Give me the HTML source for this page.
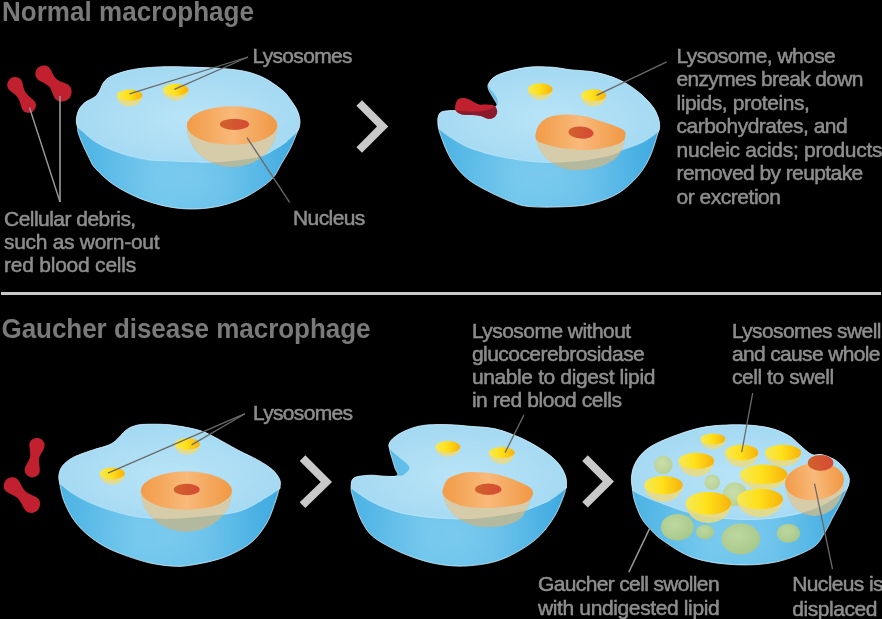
<!DOCTYPE html>
<html><head><meta charset="utf-8"><title>Macrophage</title>
<style>html,body{margin:0;padding:0;background:#000;width:882px;height:619px;overflow:hidden}svg{display:block;will-change:transform}text{font-family:"Liberation Sans",sans-serif}</style>
</head><body>
<svg width="882" height="619" viewBox="0 0 882 619" font-family="Liberation Sans, sans-serif"><defs><linearGradient id="bowl" x1="0" y1="0" x2="1" y2="0">
<stop offset="0" stop-color="#4db3e4"/><stop offset="0.35" stop-color="#6ac4ec"/><stop offset="0.65" stop-color="#62bfea"/><stop offset="1" stop-color="#3faae0"/></linearGradient>
<radialGradient id="bowlhi" cx="0.5" cy="0.78" r="0.45">
<stop offset="0" stop-color="#ffffff" stop-opacity="0.13"/><stop offset="1" stop-color="#ffffff" stop-opacity="0"/></radialGradient>
<radialGradient id="sphg" cx="0.42" cy="0.4" r="0.6">
<stop offset="0" stop-color="#bed8a0"/><stop offset="1" stop-color="#a9c98c"/></radialGradient>
<radialGradient id="sphg2" cx="0.42" cy="0.4" r="0.6">
<stop offset="0" stop-color="#cadea9"/><stop offset="1" stop-color="#b8d198"/></radialGradient>
<radialGradient id="topg" cx="0.5" cy="0.55" r="0.6">
<stop offset="0" stop-color="#b8e4f7"/><stop offset="1" stop-color="#a2d8f2"/></radialGradient>
<linearGradient id="nucg" x1="0" y1="0" x2="1" y2="0">
<stop offset="0" stop-color="#f29b47"/><stop offset="0.5" stop-color="#f8b97a"/><stop offset="1" stop-color="#f19843"/></linearGradient>
<linearGradient id="innerg" x1="0" y1="0" x2="1" y2="0">
<stop offset="0" stop-color="#d0622a"/><stop offset="1" stop-color="#d64a36"/></linearGradient>
<linearGradient id="lysg" x1="0" y1="0" x2="1" y2="0">
<stop offset="0" stop-color="#f3e85a"/><stop offset="0.45" stop-color="#ffe11a"/><stop offset="1" stop-color="#f7b20c"/></linearGradient>

<clipPath id="co1"><path d="M77.5,127.0 C77.2,125.0 76.1,122.5 76.3,119.7 C76.5,116.9 77.4,112.8 78.8,110.0 C80.2,107.2 82.0,104.9 84.7,102.7 C87.4,100.5 92.5,98.8 95.0,96.8 C97.5,94.8 98.0,93.5 99.5,91.0 C101.0,88.5 101.9,84.6 103.9,82.1 C105.9,79.6 107.1,78.2 111.3,76.2 C115.5,74.2 122.4,71.8 129.0,70.3 C135.6,68.8 142.7,68.0 151.0,67.4 C159.3,66.8 165.1,66.5 178.8,66.8 C192.5,67.1 219.4,67.9 233.0,69.5 C246.6,71.1 252.3,72.9 260.5,76.3 C268.7,79.7 277.0,86.0 282.0,90.0 C287.0,94.0 288.2,96.6 290.7,100.0 C293.2,103.4 295.7,107.1 297.2,110.3 C298.7,113.5 299.4,116.8 299.8,119.4 C300.2,122.0 299.9,124.0 299.5,126.0 C299.1,128.0 299.0,127.9 297.5,131.5 C296.0,135.1 293.3,142.5 290.7,147.8 C288.1,153.1 284.9,158.0 281.7,163.3 C278.5,168.6 276.9,174.2 271.4,179.5 C265.9,184.8 256.3,191.2 248.7,195.4 C241.1,199.6 233.6,202.2 226.0,204.4 C218.4,206.6 211.0,207.8 203.4,208.5 C195.8,209.2 188.3,209.2 180.7,208.5 C173.1,207.8 165.6,206.4 158.0,204.4 C150.4,202.4 143.0,199.9 135.4,196.5 C127.9,193.1 119.4,188.7 112.7,184.0 C106.0,179.3 99.1,172.4 95.2,168.2 C91.3,163.9 91.7,162.9 89.4,158.5 C87.1,154.1 83.5,146.4 81.6,142.0 C79.7,137.6 78.7,134.5 78.0,132.0 C77.3,129.5 77.8,129.1 77.5,127.0 Z"/></clipPath>
<clipPath id="ct1"><path d="M77.5,127.0 C76.1,124.7 76.1,122.5 76.3,119.7 C76.5,116.9 77.4,112.8 78.8,110.0 C80.2,107.2 82.0,104.9 84.7,102.7 C87.4,100.5 92.5,98.8 95.0,96.8 C97.5,94.8 98.0,93.5 99.5,91.0 C101.0,88.5 101.9,84.6 103.9,82.1 C105.9,79.6 107.1,78.2 111.3,76.2 C115.5,74.2 122.4,71.8 129.0,70.3 C135.6,68.8 142.7,68.0 151.0,67.4 C159.3,66.8 165.1,66.5 178.8,66.8 C192.5,67.1 219.4,67.9 233.0,69.5 C246.6,71.1 252.3,72.9 260.5,76.3 C268.7,79.7 277.0,86.0 282.0,90.0 C287.0,94.0 288.2,96.6 290.7,100.0 C293.2,103.4 295.7,107.1 297.2,110.3 C298.7,113.5 299.4,116.8 299.8,119.4 C300.2,122.0 299.9,124.0 299.5,126.0 C299.1,128.0 299.6,128.9 297.5,131.5 C295.4,134.1 290.7,138.5 287.0,141.4 C283.3,144.3 280.0,146.5 275.2,149.1 C270.4,151.7 267.6,154.8 258.4,156.9 C249.1,159.1 231.5,161.2 219.7,162.0 C207.8,162.8 195.9,161.9 187.3,161.7 C178.7,161.5 174.2,161.1 168.0,160.8 C161.8,160.5 156.6,160.9 150.0,160.0 C143.4,159.1 135.1,157.5 128.2,155.6 C121.3,153.7 114.5,151.2 108.8,148.8 C103.1,146.4 98.2,143.6 94.2,141.0 C90.2,138.4 87.3,135.6 84.5,133.3 C81.7,131.0 78.9,129.3 77.5,127.0 Z"/></clipPath>
<clipPath id="cn1"><path d="M186.9,125.5 A45.2,41.8 0 0 0 277.3,125.5 Z"/></clipPath>
<clipPath id="co2"><path d="M438.5,128.0 C438.1,126.2 438.1,126.6 438.0,124.9 C437.9,123.2 437.6,119.9 438.0,117.8 C438.4,115.7 439.1,113.6 440.7,112.4 C442.3,111.2 445.1,111.1 447.8,110.8 C450.5,110.5 452.9,110.5 456.6,110.6 C460.3,110.7 465.3,111.6 470.0,111.6 C474.7,111.6 480.6,111.4 485.0,110.5 C489.4,109.6 494.9,107.8 496.5,106.0 C498.1,104.2 495.6,102.1 494.6,100.0 C493.6,97.9 491.8,95.6 490.7,93.6 C489.6,91.6 488.4,89.5 488.1,87.8 C487.8,86.1 487.7,85.1 488.8,83.3 C489.9,81.5 491.5,78.8 494.6,76.8 C497.7,74.8 501.6,73.2 507.5,71.6 C513.4,70.0 522.5,67.8 530.0,67.1 C537.5,66.4 545.7,66.8 552.4,67.2 C559.1,67.6 563.0,68.9 570.0,69.7 C577.0,70.5 586.1,70.5 594.2,72.1 C602.3,73.7 611.1,76.2 618.4,79.4 C625.7,82.6 632.1,87.1 637.8,91.5 C643.4,95.9 648.9,101.6 652.3,106.0 C655.7,110.4 657.2,114.5 658.4,118.1 C659.6,121.7 659.7,125.3 659.6,127.8 C659.5,130.3 659.6,128.2 658.0,133.0 C656.4,137.8 653.3,149.7 649.9,156.9 C646.5,164.1 643.0,170.1 637.8,176.2 C632.5,182.2 625.7,188.8 618.4,193.2 C611.1,197.6 602.3,200.7 594.2,202.9 C586.1,205.1 580.7,205.9 570.0,206.5 C559.3,207.1 540.0,207.5 530.0,206.6 C520.0,205.7 517.1,203.9 509.9,201.2 C502.7,198.5 493.6,194.1 486.8,190.6 C480.0,187.1 474.0,183.8 469.0,180.0 C464.0,176.2 460.1,171.9 456.6,167.5 C453.1,163.1 450.5,158.6 447.8,153.3 C445.1,148.0 442.2,139.7 440.7,135.5 C439.1,131.3 438.9,129.8 438.5,128.0 Z"/></clipPath>
<clipPath id="ct2"><path d="M438.5,128.0 C438.3,127.4 438.1,126.6 438.0,124.9 C437.9,123.2 437.6,119.9 438.0,117.8 C438.4,115.7 439.1,113.6 440.7,112.4 C442.3,111.2 445.1,111.1 447.8,110.8 C450.5,110.5 452.9,110.5 456.6,110.6 C460.3,110.7 465.3,111.6 470.0,111.6 C474.7,111.6 480.6,111.4 485.0,110.5 C489.4,109.6 494.4,107.8 496.5,106.0 C498.6,104.2 497.9,102.1 497.5,100.0 C497.1,97.9 495.3,95.6 494.0,93.6 C492.7,91.6 490.4,89.7 489.5,88.0 C488.6,86.3 487.9,85.2 488.8,83.3 C489.7,81.4 491.5,78.8 494.6,76.8 C497.7,74.8 501.6,73.2 507.5,71.6 C513.4,70.0 522.5,67.8 530.0,67.1 C537.5,66.4 545.7,66.8 552.4,67.2 C559.1,67.6 563.0,68.9 570.0,69.7 C577.0,70.5 586.1,70.5 594.2,72.1 C602.3,73.7 611.1,76.2 618.4,79.4 C625.7,82.6 632.1,87.1 637.8,91.5 C643.4,95.9 648.9,101.6 652.3,106.0 C655.7,110.4 657.2,114.5 658.4,118.1 C659.6,121.7 659.7,125.3 659.6,127.8 C659.5,130.3 658.4,132.2 658.0,133.0 C657.6,133.8 659.8,131.0 657.2,132.6 C654.6,134.2 648.2,139.5 642.6,142.3 C637.0,145.1 628.3,147.5 623.3,149.6 C618.2,151.7 618.3,153.2 612.3,154.9 C606.3,156.6 596.8,158.7 587.4,159.9 C578.0,161.2 565.8,162.2 556.2,162.4 C546.6,162.6 539.2,162.2 530.0,161.3 C520.8,160.4 508.8,158.3 501.0,156.8 C493.2,155.3 489.2,154.2 483.3,152.4 C477.4,150.6 471.4,149.0 465.5,146.2 C459.6,143.4 452.2,138.4 447.8,135.5 C443.4,132.6 440.6,129.8 439.0,128.5 C437.4,127.2 438.7,128.6 438.5,128.0 Z"/></clipPath>
<clipPath id="cn2"><path d="M536,137 C537,150 548,166 570,170 C590,172 610,165 618,156 C623,150 624,144 625,136 Z"/></clipPath>
<clipPath id="co3"><path d="M59.8,484.0 C59.5,481.9 58.4,478.3 58.9,475.2 C59.4,472.1 60.2,468.6 62.8,465.5 C65.4,462.4 69.3,459.4 74.4,456.8 C79.5,454.2 88.1,451.6 93.6,449.7 C99.1,447.8 103.6,447.1 107.2,445.6 C110.8,444.1 112.2,443.5 115.4,440.9 C118.6,438.3 123.1,432.5 126.3,430.0 C129.5,427.5 131.2,426.8 134.4,425.9 C137.6,424.9 140.1,424.5 145.3,424.3 C150.5,424.1 159.6,424.1 165.7,424.5 C171.8,424.9 176.3,425.6 182.0,426.6 C187.7,427.6 194.6,428.9 200.0,430.6 C205.4,432.3 207.8,433.6 214.2,436.9 C220.6,440.2 231.1,446.4 238.4,450.3 C245.7,454.2 252.2,456.8 257.8,460.0 C263.4,463.2 268.7,466.4 272.3,469.6 C275.9,472.8 278.3,476.5 279.6,479.3 C280.9,482.1 280.2,484.9 280.1,486.6 C280.0,488.3 279.7,487.3 279.0,489.5 C278.3,491.7 277.9,494.5 276.0,499.9 C274.1,505.3 271.3,514.9 267.5,521.7 C263.7,528.6 258.6,535.8 253.0,541.0 C247.3,546.2 240.1,550.0 233.6,553.2 C227.1,556.4 221.5,558.4 214.2,560.4 C206.9,562.4 196.5,564.3 190.0,565.3 C183.5,566.3 181.3,566.6 175.0,566.3 C168.7,566.0 159.6,565.0 151.9,563.4 C144.2,561.8 136.4,559.4 128.7,556.6 C120.9,553.9 112.5,550.8 105.4,546.9 C98.3,543.0 91.5,538.2 86.0,533.4 C80.5,528.6 76.1,523.4 72.4,517.9 C68.7,512.4 65.7,505.4 63.7,500.4 C61.7,495.4 61.1,490.7 60.5,488.0 C59.9,485.3 60.1,486.1 59.8,484.0 Z"/></clipPath>
<clipPath id="ct3"><path d="M59.8,484.0 C59.4,482.4 58.4,478.3 58.9,475.2 C59.4,472.1 60.2,468.6 62.8,465.5 C65.4,462.4 69.3,459.4 74.4,456.8 C79.5,454.2 88.1,451.6 93.6,449.7 C99.1,447.8 103.6,447.1 107.2,445.6 C110.8,444.1 112.2,443.5 115.4,440.9 C118.6,438.3 123.1,432.5 126.3,430.0 C129.5,427.5 131.2,426.8 134.4,425.9 C137.6,424.9 140.1,424.5 145.3,424.3 C150.5,424.1 159.6,424.1 165.7,424.5 C171.8,424.9 176.3,425.6 182.0,426.6 C187.7,427.6 194.6,428.9 200.0,430.6 C205.4,432.3 207.8,433.6 214.2,436.9 C220.6,440.2 231.1,446.4 238.4,450.3 C245.7,454.2 252.2,456.8 257.8,460.0 C263.4,463.2 268.7,466.4 272.3,469.6 C275.9,472.8 278.3,476.5 279.6,479.3 C280.9,482.1 280.2,484.9 280.1,486.6 C280.0,488.3 281.9,487.3 279.0,489.5 C276.1,491.7 269.1,496.4 262.6,500.0 C256.1,503.6 248.3,508.5 240.0,511.1 C231.7,513.7 223.6,514.3 212.6,515.6 C201.6,516.9 184.6,518.4 173.8,518.8 C163.0,519.2 154.9,518.5 148.0,518.0 C141.1,517.5 138.3,517.1 132.5,516.0 C126.7,514.9 119.7,513.1 113.2,511.1 C106.8,509.2 100.3,507.1 93.8,504.3 C87.3,501.6 79.9,497.9 74.4,494.6 C68.9,491.3 63.4,486.3 61.0,484.5 C58.6,482.7 60.1,485.6 59.8,484.0 Z"/></clipPath>
<clipPath id="cn3"><path d="M140.8,490.7 A45.6,41.1 0 0 0 232.0,490.7 Z"/></clipPath>
<clipPath id="co4"><path d="M351.1,488.8 C351.2,486.8 351.0,481.8 352.3,479.7 C353.6,477.6 355.6,477.1 359.0,476.3 C362.4,475.6 368.5,475.2 372.6,475.2 C376.7,475.2 379.7,476.1 383.8,476.2 C387.9,476.3 395.5,477.0 397.3,475.6 C399.1,474.2 395.7,470.6 394.8,467.8 C393.9,465.0 393.1,461.8 392.2,458.8 C391.3,455.8 390.0,452.4 389.6,449.7 C389.2,447.0 388.4,445.0 389.6,442.6 C390.8,440.2 393.4,437.8 396.7,435.5 C400.0,433.2 404.9,430.7 409.6,429.0 C414.3,427.3 418.3,425.9 425.0,425.2 C431.7,424.5 442.3,424.5 449.8,424.7 C457.3,424.9 462.4,425.6 470.0,426.3 C477.6,427.0 486.8,426.9 495.1,428.8 C503.5,430.7 512.2,434.1 520.1,437.6 C528.0,441.2 536.4,445.9 542.7,450.1 C549.0,454.3 554.0,458.4 557.7,462.6 C561.5,466.8 563.7,471.4 565.2,475.2 C566.7,479.0 566.5,482.9 566.5,485.2 C566.5,487.5 565.9,487.3 565.5,489.0 C565.1,490.7 565.7,490.8 564.0,495.2 C562.3,499.6 559.2,508.5 555.2,515.2 C551.2,521.9 546.1,529.4 540.2,535.3 C534.4,541.1 527.6,545.9 520.1,550.3 C512.6,554.7 504.1,559.0 495.1,561.6 C486.1,564.2 475.1,565.5 466.0,566.0 C456.9,566.5 448.4,565.7 440.4,564.5 C432.4,563.3 425.3,561.4 417.8,558.9 C410.3,556.4 402.7,553.6 395.2,549.8 C387.7,546.0 378.2,541.2 372.6,536.3 C367.0,531.4 364.3,526.1 361.3,520.4 C358.3,514.7 356.1,507.0 354.5,502.3 C352.9,497.6 352.1,494.2 351.5,492.0 C350.9,489.8 351.0,490.9 351.1,488.8 Z"/></clipPath>
<clipPath id="ct4"><path d="M351.1,488.8 C350.9,487.1 351.0,481.8 352.3,479.7 C353.6,477.6 355.6,477.1 359.0,476.3 C362.4,475.6 368.5,475.2 372.6,475.2 C376.7,475.2 379.7,476.1 383.8,476.2 C387.9,476.3 394.1,476.0 397.3,475.8 C400.5,475.6 401.2,475.9 403.2,474.9 C405.1,473.9 408.1,471.4 409.0,469.8 C409.9,468.2 409.9,467.2 408.3,465.2 C406.7,463.1 402.4,460.3 399.3,457.5 C396.2,454.7 391.2,450.9 389.6,448.4 C388.0,445.9 388.4,444.8 389.6,442.6 C390.8,440.5 393.4,437.8 396.7,435.5 C400.0,433.2 404.9,430.7 409.6,429.0 C414.3,427.3 418.3,425.9 425.0,425.2 C431.7,424.5 442.3,424.5 449.8,424.7 C457.3,424.9 462.4,425.6 470.0,426.3 C477.6,427.0 486.8,426.9 495.1,428.8 C503.5,430.7 512.2,434.1 520.1,437.6 C528.0,441.2 536.4,445.9 542.7,450.1 C549.0,454.3 554.0,458.4 557.7,462.6 C561.5,466.8 563.7,471.4 565.2,475.2 C566.7,479.0 566.5,482.9 566.5,485.2 C566.5,487.5 568.2,486.5 565.5,489.0 C562.8,491.5 555.7,497.1 550.2,500.2 C544.7,503.3 537.7,505.7 532.7,507.7 C527.7,509.7 526.4,510.5 520.1,512.0 C513.8,513.5 503.4,515.3 495.0,516.5 C486.6,517.7 479.1,518.7 470.0,519.0 C460.9,519.3 449.1,518.7 440.4,518.2 C431.7,517.7 425.3,517.0 417.8,515.9 C410.3,514.8 402.7,513.7 395.2,511.4 C387.7,509.1 379.6,505.9 372.6,502.3 C365.6,498.7 357.0,492.1 353.4,489.9 C349.8,487.6 351.3,490.5 351.1,488.8 Z"/></clipPath>
<clipPath id="cn4"><path d="M443,492 C444,508 458,526 485,527 C505,528 520,522 524,514 C528,506 531,500 532,494 Z"/></clipPath>
<clipPath id="co5"><path d="M632.3,488.5 C631.8,484.4 631.1,481.2 631.5,477.2 C631.9,473.2 632.6,468.6 634.7,464.3 C636.9,460.0 639.5,455.4 644.4,451.3 C649.2,447.2 654.2,444.0 663.8,440.0 C673.4,436.0 689.2,430.0 701.9,427.5 C714.6,425.0 728.8,424.8 740.0,424.8 C751.2,424.9 760.9,426.0 769.0,427.8 C777.1,429.6 783.3,432.6 788.5,435.5 C793.7,438.4 796.1,442.0 800.0,445.2 C803.9,448.4 808.1,452.9 811.7,454.5 C815.3,456.1 817.9,453.8 821.4,454.5 C824.9,455.2 829.8,457.1 833.0,458.8 C836.2,460.5 838.7,462.7 840.8,464.6 C842.9,466.5 844.4,468.5 845.7,470.4 C847.0,472.3 848.0,474.3 848.6,476.2 C849.2,478.1 849.5,479.9 849.2,482.0 C848.9,484.1 848.5,485.3 847.0,489.0 C845.5,492.7 842.6,499.1 840.1,504.0 C837.6,508.9 834.8,513.7 832.2,518.6 C829.6,523.5 827.7,528.3 824.3,533.3 C820.9,538.2 819.8,543.5 811.7,548.3 C803.7,553.1 788.8,559.3 776.0,562.0 C763.2,564.7 748.5,565.4 734.8,564.7 C721.1,564.0 705.7,562.0 693.6,557.9 C681.5,553.8 669.6,545.0 662.2,540.0 C654.8,535.0 652.8,531.8 649.3,528.1 C645.8,524.4 643.6,522.0 641.2,517.6 C638.8,513.2 636.2,506.4 634.7,501.5 C633.2,496.6 632.8,492.6 632.3,488.5 Z"/></clipPath>
<clipPath id="ct5"><path d="M632.3,488.5 C632.0,486.3 631.1,481.2 631.5,477.2 C631.9,473.2 632.6,468.6 634.7,464.3 C636.9,460.0 639.5,455.4 644.4,451.3 C649.2,447.2 654.2,444.0 663.8,440.0 C673.4,436.0 689.2,430.0 701.9,427.5 C714.6,425.0 728.8,424.8 740.0,424.8 C751.2,424.9 760.9,426.0 769.0,427.8 C777.1,429.6 783.3,432.6 788.5,435.5 C793.7,438.4 796.1,442.0 800.0,445.2 C803.9,448.4 808.1,452.9 811.7,454.5 C815.3,456.1 817.9,453.8 821.4,454.5 C824.9,455.2 829.8,457.1 833.0,458.8 C836.2,460.5 838.7,462.7 840.8,464.6 C842.9,466.5 844.4,468.5 845.7,470.4 C847.0,472.3 848.0,474.3 848.6,476.2 C849.2,478.1 849.5,479.9 849.2,482.0 C848.9,484.1 848.9,486.7 847.0,489.0 C845.1,491.3 842.1,493.1 837.8,496.0 C833.4,498.9 826.9,503.4 820.9,506.2 C814.9,509.0 807.4,511.4 801.7,513.0 C796.1,514.6 792.3,515.1 787.0,516.0 C781.7,516.9 776.4,517.9 770.0,518.5 C763.6,519.1 756.1,519.5 748.6,519.5 C741.1,519.5 731.9,519.1 725.0,518.5 C718.1,517.9 714.1,517.2 707.4,516.0 C700.7,514.8 692.0,513.4 685.0,511.5 C678.0,509.6 672.2,507.2 665.4,504.7 C658.6,502.2 649.8,499.0 644.4,496.6 C639.0,494.2 635.0,491.9 633.0,490.5 C631.0,489.1 632.5,490.7 632.3,488.5 Z"/></clipPath>
<clipPath id="cn5"><path d="M785.5,484 A29,32 0 0 0 843.5,484 Z"/></clipPath></defs><text transform="translate(2.0,21.0) scale(1,1.060)" font-size="26" font-weight="bold" fill="#7a7a7a" textLength="252.0" lengthAdjust="spacing">Normal macrophage</text>
<path d="M10.8,78.2 C9.3,79.2 7.8,81.3 7.5,83.1 C7.1,84.9 6.8,86.5 8.5,88.9 C10.3,91.3 15.6,94.2 17.9,97.7 C20.3,101.1 21.0,107.1 22.5,109.6 C24.0,112.1 25.4,112.4 27.1,112.7 C28.8,113.1 31.1,112.7 32.6,111.7 C34.0,110.8 35.4,108.8 35.7,107.1 C36.1,105.4 36.4,104.0 34.7,101.6 C33.0,99.2 27.9,96.2 25.7,92.6 C23.4,89.1 23.0,83.1 21.5,80.5 C19.9,77.9 18.4,77.5 16.6,77.2 C14.8,76.8 12.3,77.3 10.8,78.2 Z" fill="#c1202f"/>
<path d="M37.8,67.8 C36.4,69.2 35.4,71.7 35.4,73.6 C35.4,75.5 35.5,77.3 37.8,79.4 C40.1,81.5 46.2,83.2 49.1,86.5 C52.0,89.7 53.1,96.3 55.2,98.8 C57.4,101.3 59.7,101.6 62.0,101.6 C64.3,101.6 67.2,100.4 68.8,98.8 C70.4,97.2 71.6,94.3 71.6,92.0 C71.6,89.7 71.3,87.4 68.8,85.2 C66.3,83.1 59.7,82.0 56.5,79.1 C53.2,76.2 51.5,70.1 49.4,67.8 C47.3,65.5 45.5,65.4 43.6,65.4 C41.7,65.4 39.2,66.4 37.8,67.8 Z" fill="#c1202f"/>
<line x1="29.5" y1="107.5" x2="60.0" y2="202.0" stroke="#9a9a9a" stroke-width="1.4"/>
<line x1="60.0" y1="96.0" x2="60.0" y2="202.0" stroke="#9a9a9a" stroke-width="1.6"/>
<text transform="translate(4.0,225.6) scale(1,1.000)" font-size="21" font-weight="normal" fill="#8a8a8a" textLength="132.2" lengthAdjust="spacing" stroke="#9c9c9c" stroke-width="0.45">Cellular debris,</text>
<text transform="translate(4.0,248.6) scale(1,1.000)" font-size="21" font-weight="normal" fill="#8a8a8a" textLength="155.5" lengthAdjust="spacing" stroke="#9c9c9c" stroke-width="0.45">such as worn-out</text>
<text transform="translate(4.0,271.6) scale(1,1.000)" font-size="21" font-weight="normal" fill="#8a8a8a" textLength="132.2" lengthAdjust="spacing" stroke="#9c9c9c" stroke-width="0.45">red blood cells</text>
<path d="M77.5,127.0 C77.2,125.0 76.1,122.5 76.3,119.7 C76.5,116.9 77.4,112.8 78.8,110.0 C80.2,107.2 82.0,104.9 84.7,102.7 C87.4,100.5 92.5,98.8 95.0,96.8 C97.5,94.8 98.0,93.5 99.5,91.0 C101.0,88.5 101.9,84.6 103.9,82.1 C105.9,79.6 107.1,78.2 111.3,76.2 C115.5,74.2 122.4,71.8 129.0,70.3 C135.6,68.8 142.7,68.0 151.0,67.4 C159.3,66.8 165.1,66.5 178.8,66.8 C192.5,67.1 219.4,67.9 233.0,69.5 C246.6,71.1 252.3,72.9 260.5,76.3 C268.7,79.7 277.0,86.0 282.0,90.0 C287.0,94.0 288.2,96.6 290.7,100.0 C293.2,103.4 295.7,107.1 297.2,110.3 C298.7,113.5 299.4,116.8 299.8,119.4 C300.2,122.0 299.9,124.0 299.5,126.0 C299.1,128.0 299.0,127.9 297.5,131.5 C296.0,135.1 293.3,142.5 290.7,147.8 C288.1,153.1 284.9,158.0 281.7,163.3 C278.5,168.6 276.9,174.2 271.4,179.5 C265.9,184.8 256.3,191.2 248.7,195.4 C241.1,199.6 233.6,202.2 226.0,204.4 C218.4,206.6 211.0,207.8 203.4,208.5 C195.8,209.2 188.3,209.2 180.7,208.5 C173.1,207.8 165.6,206.4 158.0,204.4 C150.4,202.4 143.0,199.9 135.4,196.5 C127.9,193.1 119.4,188.7 112.7,184.0 C106.0,179.3 99.1,172.4 95.2,168.2 C91.3,163.9 91.7,162.9 89.4,158.5 C87.1,154.1 83.5,146.4 81.6,142.0 C79.7,137.6 78.7,134.5 78.0,132.0 C77.3,129.5 77.8,129.1 77.5,127.0 Z" fill="url(#bowl)"/>
<path d="M77.5,127.0 C77.2,125.0 76.1,122.5 76.3,119.7 C76.5,116.9 77.4,112.8 78.8,110.0 C80.2,107.2 82.0,104.9 84.7,102.7 C87.4,100.5 92.5,98.8 95.0,96.8 C97.5,94.8 98.0,93.5 99.5,91.0 C101.0,88.5 101.9,84.6 103.9,82.1 C105.9,79.6 107.1,78.2 111.3,76.2 C115.5,74.2 122.4,71.8 129.0,70.3 C135.6,68.8 142.7,68.0 151.0,67.4 C159.3,66.8 165.1,66.5 178.8,66.8 C192.5,67.1 219.4,67.9 233.0,69.5 C246.6,71.1 252.3,72.9 260.5,76.3 C268.7,79.7 277.0,86.0 282.0,90.0 C287.0,94.0 288.2,96.6 290.7,100.0 C293.2,103.4 295.7,107.1 297.2,110.3 C298.7,113.5 299.4,116.8 299.8,119.4 C300.2,122.0 299.9,124.0 299.5,126.0 C299.1,128.0 299.0,127.9 297.5,131.5 C296.0,135.1 293.3,142.5 290.7,147.8 C288.1,153.1 284.9,158.0 281.7,163.3 C278.5,168.6 276.9,174.2 271.4,179.5 C265.9,184.8 256.3,191.2 248.7,195.4 C241.1,199.6 233.6,202.2 226.0,204.4 C218.4,206.6 211.0,207.8 203.4,208.5 C195.8,209.2 188.3,209.2 180.7,208.5 C173.1,207.8 165.6,206.4 158.0,204.4 C150.4,202.4 143.0,199.9 135.4,196.5 C127.9,193.1 119.4,188.7 112.7,184.0 C106.0,179.3 99.1,172.4 95.2,168.2 C91.3,163.9 91.7,162.9 89.4,158.5 C87.1,154.1 83.5,146.4 81.6,142.0 C79.7,137.6 78.7,134.5 78.0,132.0 C77.3,129.5 77.8,129.1 77.5,127.0 Z" fill="url(#bowlhi)"/>
<path d="M77.5,127.0 C76.1,124.7 76.1,122.5 76.3,119.7 C76.5,116.9 77.4,112.8 78.8,110.0 C80.2,107.2 82.0,104.9 84.7,102.7 C87.4,100.5 92.5,98.8 95.0,96.8 C97.5,94.8 98.0,93.5 99.5,91.0 C101.0,88.5 101.9,84.6 103.9,82.1 C105.9,79.6 107.1,78.2 111.3,76.2 C115.5,74.2 122.4,71.8 129.0,70.3 C135.6,68.8 142.7,68.0 151.0,67.4 C159.3,66.8 165.1,66.5 178.8,66.8 C192.5,67.1 219.4,67.9 233.0,69.5 C246.6,71.1 252.3,72.9 260.5,76.3 C268.7,79.7 277.0,86.0 282.0,90.0 C287.0,94.0 288.2,96.6 290.7,100.0 C293.2,103.4 295.7,107.1 297.2,110.3 C298.7,113.5 299.4,116.8 299.8,119.4 C300.2,122.0 299.9,124.0 299.5,126.0 C299.1,128.0 299.6,128.9 297.5,131.5 C295.4,134.1 290.7,138.5 287.0,141.4 C283.3,144.3 280.0,146.5 275.2,149.1 C270.4,151.7 267.6,154.8 258.4,156.9 C249.1,159.1 231.5,161.2 219.7,162.0 C207.8,162.8 195.9,161.9 187.3,161.7 C178.7,161.5 174.2,161.1 168.0,160.8 C161.8,160.5 156.6,160.9 150.0,160.0 C143.4,159.1 135.1,157.5 128.2,155.6 C121.3,153.7 114.5,151.2 108.8,148.8 C103.1,146.4 98.2,143.6 94.2,141.0 C90.2,138.4 87.3,135.6 84.5,133.3 C81.7,131.0 78.9,129.3 77.5,127.0 Z" fill="url(#topg)"/>
<path d="M77.5,127.0 C77.2,125.0 76.1,122.5 76.3,119.7 C76.5,116.9 77.4,112.8 78.8,110.0 C80.2,107.2 82.0,104.9 84.7,102.7 C87.4,100.5 92.5,98.8 95.0,96.8 C97.5,94.8 98.0,93.5 99.5,91.0 C101.0,88.5 101.9,84.6 103.9,82.1 C105.9,79.6 107.1,78.2 111.3,76.2 C115.5,74.2 122.4,71.8 129.0,70.3 C135.6,68.8 142.7,68.0 151.0,67.4 C159.3,66.8 165.1,66.5 178.8,66.8 C192.5,67.1 219.4,67.9 233.0,69.5 C246.6,71.1 252.3,72.9 260.5,76.3 C268.7,79.7 277.0,86.0 282.0,90.0 C287.0,94.0 288.2,96.6 290.7,100.0 C293.2,103.4 295.7,107.1 297.2,110.3 C298.7,113.5 299.4,116.8 299.8,119.4 C300.2,122.0 299.9,124.0 299.5,126.0 C299.1,128.0 299.0,127.9 297.5,131.5 C296.0,135.1 293.3,142.5 290.7,147.8 C288.1,153.1 284.9,158.0 281.7,163.3 C278.5,168.6 276.9,174.2 271.4,179.5 C265.9,184.8 256.3,191.2 248.7,195.4 C241.1,199.6 233.6,202.2 226.0,204.4 C218.4,206.6 211.0,207.8 203.4,208.5 C195.8,209.2 188.3,209.2 180.7,208.5 C173.1,207.8 165.6,206.4 158.0,204.4 C150.4,202.4 143.0,199.9 135.4,196.5 C127.9,193.1 119.4,188.7 112.7,184.0 C106.0,179.3 99.1,172.4 95.2,168.2 C91.3,163.9 91.7,162.9 89.4,158.5 C87.1,154.1 83.5,146.4 81.6,142.0 C79.7,137.6 78.7,134.5 78.0,132.0 C77.3,129.5 77.8,129.1 77.5,127.0 Z" fill="none" stroke="#d4f0fc" stroke-width="1" stroke-opacity="0.75"/>
<path d="M287.0,141.4 C285.0,142.7 280.0,146.5 275.2,149.1 C270.4,151.7 267.6,154.8 258.4,156.9 C249.1,159.1 231.5,161.2 219.7,162.0 C207.8,162.8 195.9,161.9 187.3,161.7 C178.7,161.5 174.2,161.1 168.0,160.8 C161.8,160.5 156.6,160.9 150.0,160.0 C143.4,159.1 135.1,157.5 128.2,155.6 C121.3,153.7 114.5,151.2 108.8,148.8 C103.1,146.4 98.2,143.6 94.2,141.0 C90.2,138.4 86.1,134.6 84.5,133.3" fill="none" stroke="#c6ebfa" stroke-width="1" stroke-opacity="0.6"/>
<path d="M116.9,95.2 A12.7,11.3 0 0 0 142.3,95.2 Z" fill="#ecdb7c" fill-opacity="0.85"/>
<ellipse cx="129.6" cy="95.2" rx="12.7" ry="5.6" fill="url(#lysg)"/>
<path d="M163.0,89.8 A12.7,10.6 0 0 0 188.4,89.8 Z" fill="#ecdb7c" fill-opacity="0.85"/>
<ellipse cx="175.7" cy="89.8" rx="12.7" ry="6.0" fill="url(#lysg)"/>
<g clip-path="url(#cn1)"><path d="M77.5,127.0 C77.2,125.0 76.1,122.5 76.3,119.7 C76.5,116.9 77.4,112.8 78.8,110.0 C80.2,107.2 82.0,104.9 84.7,102.7 C87.4,100.5 92.5,98.8 95.0,96.8 C97.5,94.8 98.0,93.5 99.5,91.0 C101.0,88.5 101.9,84.6 103.9,82.1 C105.9,79.6 107.1,78.2 111.3,76.2 C115.5,74.2 122.4,71.8 129.0,70.3 C135.6,68.8 142.7,68.0 151.0,67.4 C159.3,66.8 165.1,66.5 178.8,66.8 C192.5,67.1 219.4,67.9 233.0,69.5 C246.6,71.1 252.3,72.9 260.5,76.3 C268.7,79.7 277.0,86.0 282.0,90.0 C287.0,94.0 288.2,96.6 290.7,100.0 C293.2,103.4 295.7,107.1 297.2,110.3 C298.7,113.5 299.4,116.8 299.8,119.4 C300.2,122.0 299.9,124.0 299.5,126.0 C299.1,128.0 299.0,127.9 297.5,131.5 C296.0,135.1 293.3,142.5 290.7,147.8 C288.1,153.1 284.9,158.0 281.7,163.3 C278.5,168.6 276.9,174.2 271.4,179.5 C265.9,184.8 256.3,191.2 248.7,195.4 C241.1,199.6 233.6,202.2 226.0,204.4 C218.4,206.6 211.0,207.8 203.4,208.5 C195.8,209.2 188.3,209.2 180.7,208.5 C173.1,207.8 165.6,206.4 158.0,204.4 C150.4,202.4 143.0,199.9 135.4,196.5 C127.9,193.1 119.4,188.7 112.7,184.0 C106.0,179.3 99.1,172.4 95.2,168.2 C91.3,163.9 91.7,162.9 89.4,158.5 C87.1,154.1 83.5,146.4 81.6,142.0 C79.7,137.6 78.7,134.5 78.0,132.0 C77.3,129.5 77.8,129.1 77.5,127.0 Z" fill="#b2b99f"/><path d="M77.5,127.0 C76.1,124.7 76.1,122.5 76.3,119.7 C76.5,116.9 77.4,112.8 78.8,110.0 C80.2,107.2 82.0,104.9 84.7,102.7 C87.4,100.5 92.5,98.8 95.0,96.8 C97.5,94.8 98.0,93.5 99.5,91.0 C101.0,88.5 101.9,84.6 103.9,82.1 C105.9,79.6 107.1,78.2 111.3,76.2 C115.5,74.2 122.4,71.8 129.0,70.3 C135.6,68.8 142.7,68.0 151.0,67.4 C159.3,66.8 165.1,66.5 178.8,66.8 C192.5,67.1 219.4,67.9 233.0,69.5 C246.6,71.1 252.3,72.9 260.5,76.3 C268.7,79.7 277.0,86.0 282.0,90.0 C287.0,94.0 288.2,96.6 290.7,100.0 C293.2,103.4 295.7,107.1 297.2,110.3 C298.7,113.5 299.4,116.8 299.8,119.4 C300.2,122.0 299.9,124.0 299.5,126.0 C299.1,128.0 299.6,128.9 297.5,131.5 C295.4,134.1 290.7,138.5 287.0,141.4 C283.3,144.3 280.0,146.5 275.2,149.1 C270.4,151.7 267.6,154.8 258.4,156.9 C249.1,159.1 231.5,161.2 219.7,162.0 C207.8,162.8 195.9,161.9 187.3,161.7 C178.7,161.5 174.2,161.1 168.0,160.8 C161.8,160.5 156.6,160.9 150.0,160.0 C143.4,159.1 135.1,157.5 128.2,155.6 C121.3,153.7 114.5,151.2 108.8,148.8 C103.1,146.4 98.2,143.6 94.2,141.0 C90.2,138.4 87.3,135.6 84.5,133.3 C81.7,131.0 78.9,129.3 77.5,127.0 Z" fill="#d7cca9"/></g>
<ellipse cx="232.1" cy="125.5" rx="45.2" ry="19.3" fill="url(#nucg)"/>
<ellipse cx="234.5" cy="124.3" rx="14.6" ry="5.6" fill="url(#innerg)"/>
<line x1="248.0" y1="57.0" x2="129.5" y2="93.8" stroke="#6a6a6a" stroke-width="1.3"/>
<line x1="248.0" y1="57.0" x2="174.4" y2="89.3" stroke="#6a6a6a" stroke-width="1.3"/>
<text transform="translate(252.5,62.7) scale(1,1.000)" font-size="21" font-weight="normal" fill="#8a8a8a" textLength="100.0" lengthAdjust="spacing" stroke="#9c9c9c" stroke-width="0.45">Lysosomes</text>
<line x1="247.0" y1="137.6" x2="289.6" y2="202.4" stroke="#6a6a6a" stroke-width="1.3"/>
<text transform="translate(293.0,224.7) scale(1,1.000)" font-size="21" font-weight="normal" fill="#8a8a8a" textLength="72.3" lengthAdjust="spacing" stroke="#9c9c9c" stroke-width="0.45">Nucleus</text>
<path d="M362.0,100.2 L388.3,126.5 L362.0,152.8 L356.4,147.2 L377.0,126.5 L356.4,105.8 Z" fill="#c9c9c9"/>
<path d="M438.5,128.0 C438.1,126.2 438.1,126.6 438.0,124.9 C437.9,123.2 437.6,119.9 438.0,117.8 C438.4,115.7 439.1,113.6 440.7,112.4 C442.3,111.2 445.1,111.1 447.8,110.8 C450.5,110.5 452.9,110.5 456.6,110.6 C460.3,110.7 465.3,111.6 470.0,111.6 C474.7,111.6 480.6,111.4 485.0,110.5 C489.4,109.6 494.9,107.8 496.5,106.0 C498.1,104.2 495.6,102.1 494.6,100.0 C493.6,97.9 491.8,95.6 490.7,93.6 C489.6,91.6 488.4,89.5 488.1,87.8 C487.8,86.1 487.7,85.1 488.8,83.3 C489.9,81.5 491.5,78.8 494.6,76.8 C497.7,74.8 501.6,73.2 507.5,71.6 C513.4,70.0 522.5,67.8 530.0,67.1 C537.5,66.4 545.7,66.8 552.4,67.2 C559.1,67.6 563.0,68.9 570.0,69.7 C577.0,70.5 586.1,70.5 594.2,72.1 C602.3,73.7 611.1,76.2 618.4,79.4 C625.7,82.6 632.1,87.1 637.8,91.5 C643.4,95.9 648.9,101.6 652.3,106.0 C655.7,110.4 657.2,114.5 658.4,118.1 C659.6,121.7 659.7,125.3 659.6,127.8 C659.5,130.3 659.6,128.2 658.0,133.0 C656.4,137.8 653.3,149.7 649.9,156.9 C646.5,164.1 643.0,170.1 637.8,176.2 C632.5,182.2 625.7,188.8 618.4,193.2 C611.1,197.6 602.3,200.7 594.2,202.9 C586.1,205.1 580.7,205.9 570.0,206.5 C559.3,207.1 540.0,207.5 530.0,206.6 C520.0,205.7 517.1,203.9 509.9,201.2 C502.7,198.5 493.6,194.1 486.8,190.6 C480.0,187.1 474.0,183.8 469.0,180.0 C464.0,176.2 460.1,171.9 456.6,167.5 C453.1,163.1 450.5,158.6 447.8,153.3 C445.1,148.0 442.2,139.7 440.7,135.5 C439.1,131.3 438.9,129.8 438.5,128.0 Z" fill="url(#bowl)"/>
<path d="M438.5,128.0 C438.1,126.2 438.1,126.6 438.0,124.9 C437.9,123.2 437.6,119.9 438.0,117.8 C438.4,115.7 439.1,113.6 440.7,112.4 C442.3,111.2 445.1,111.1 447.8,110.8 C450.5,110.5 452.9,110.5 456.6,110.6 C460.3,110.7 465.3,111.6 470.0,111.6 C474.7,111.6 480.6,111.4 485.0,110.5 C489.4,109.6 494.9,107.8 496.5,106.0 C498.1,104.2 495.6,102.1 494.6,100.0 C493.6,97.9 491.8,95.6 490.7,93.6 C489.6,91.6 488.4,89.5 488.1,87.8 C487.8,86.1 487.7,85.1 488.8,83.3 C489.9,81.5 491.5,78.8 494.6,76.8 C497.7,74.8 501.6,73.2 507.5,71.6 C513.4,70.0 522.5,67.8 530.0,67.1 C537.5,66.4 545.7,66.8 552.4,67.2 C559.1,67.6 563.0,68.9 570.0,69.7 C577.0,70.5 586.1,70.5 594.2,72.1 C602.3,73.7 611.1,76.2 618.4,79.4 C625.7,82.6 632.1,87.1 637.8,91.5 C643.4,95.9 648.9,101.6 652.3,106.0 C655.7,110.4 657.2,114.5 658.4,118.1 C659.6,121.7 659.7,125.3 659.6,127.8 C659.5,130.3 659.6,128.2 658.0,133.0 C656.4,137.8 653.3,149.7 649.9,156.9 C646.5,164.1 643.0,170.1 637.8,176.2 C632.5,182.2 625.7,188.8 618.4,193.2 C611.1,197.6 602.3,200.7 594.2,202.9 C586.1,205.1 580.7,205.9 570.0,206.5 C559.3,207.1 540.0,207.5 530.0,206.6 C520.0,205.7 517.1,203.9 509.9,201.2 C502.7,198.5 493.6,194.1 486.8,190.6 C480.0,187.1 474.0,183.8 469.0,180.0 C464.0,176.2 460.1,171.9 456.6,167.5 C453.1,163.1 450.5,158.6 447.8,153.3 C445.1,148.0 442.2,139.7 440.7,135.5 C439.1,131.3 438.9,129.8 438.5,128.0 Z" fill="url(#bowlhi)"/>
<path d="M438.5,128.0 C438.3,127.4 438.1,126.6 438.0,124.9 C437.9,123.2 437.6,119.9 438.0,117.8 C438.4,115.7 439.1,113.6 440.7,112.4 C442.3,111.2 445.1,111.1 447.8,110.8 C450.5,110.5 452.9,110.5 456.6,110.6 C460.3,110.7 465.3,111.6 470.0,111.6 C474.7,111.6 480.6,111.4 485.0,110.5 C489.4,109.6 494.4,107.8 496.5,106.0 C498.6,104.2 497.9,102.1 497.5,100.0 C497.1,97.9 495.3,95.6 494.0,93.6 C492.7,91.6 490.4,89.7 489.5,88.0 C488.6,86.3 487.9,85.2 488.8,83.3 C489.7,81.4 491.5,78.8 494.6,76.8 C497.7,74.8 501.6,73.2 507.5,71.6 C513.4,70.0 522.5,67.8 530.0,67.1 C537.5,66.4 545.7,66.8 552.4,67.2 C559.1,67.6 563.0,68.9 570.0,69.7 C577.0,70.5 586.1,70.5 594.2,72.1 C602.3,73.7 611.1,76.2 618.4,79.4 C625.7,82.6 632.1,87.1 637.8,91.5 C643.4,95.9 648.9,101.6 652.3,106.0 C655.7,110.4 657.2,114.5 658.4,118.1 C659.6,121.7 659.7,125.3 659.6,127.8 C659.5,130.3 658.4,132.2 658.0,133.0 C657.6,133.8 659.8,131.0 657.2,132.6 C654.6,134.2 648.2,139.5 642.6,142.3 C637.0,145.1 628.3,147.5 623.3,149.6 C618.2,151.7 618.3,153.2 612.3,154.9 C606.3,156.6 596.8,158.7 587.4,159.9 C578.0,161.2 565.8,162.2 556.2,162.4 C546.6,162.6 539.2,162.2 530.0,161.3 C520.8,160.4 508.8,158.3 501.0,156.8 C493.2,155.3 489.2,154.2 483.3,152.4 C477.4,150.6 471.4,149.0 465.5,146.2 C459.6,143.4 452.2,138.4 447.8,135.5 C443.4,132.6 440.6,129.8 439.0,128.5 C437.4,127.2 438.7,128.6 438.5,128.0 Z" fill="url(#topg)"/>
<path d="M438.5,128.0 C438.1,126.2 438.1,126.6 438.0,124.9 C437.9,123.2 437.6,119.9 438.0,117.8 C438.4,115.7 439.1,113.6 440.7,112.4 C442.3,111.2 445.1,111.1 447.8,110.8 C450.5,110.5 452.9,110.5 456.6,110.6 C460.3,110.7 465.3,111.6 470.0,111.6 C474.7,111.6 480.6,111.4 485.0,110.5 C489.4,109.6 494.9,107.8 496.5,106.0 C498.1,104.2 495.6,102.1 494.6,100.0 C493.6,97.9 491.8,95.6 490.7,93.6 C489.6,91.6 488.4,89.5 488.1,87.8 C487.8,86.1 487.7,85.1 488.8,83.3 C489.9,81.5 491.5,78.8 494.6,76.8 C497.7,74.8 501.6,73.2 507.5,71.6 C513.4,70.0 522.5,67.8 530.0,67.1 C537.5,66.4 545.7,66.8 552.4,67.2 C559.1,67.6 563.0,68.9 570.0,69.7 C577.0,70.5 586.1,70.5 594.2,72.1 C602.3,73.7 611.1,76.2 618.4,79.4 C625.7,82.6 632.1,87.1 637.8,91.5 C643.4,95.9 648.9,101.6 652.3,106.0 C655.7,110.4 657.2,114.5 658.4,118.1 C659.6,121.7 659.7,125.3 659.6,127.8 C659.5,130.3 659.6,128.2 658.0,133.0 C656.4,137.8 653.3,149.7 649.9,156.9 C646.5,164.1 643.0,170.1 637.8,176.2 C632.5,182.2 625.7,188.8 618.4,193.2 C611.1,197.6 602.3,200.7 594.2,202.9 C586.1,205.1 580.7,205.9 570.0,206.5 C559.3,207.1 540.0,207.5 530.0,206.6 C520.0,205.7 517.1,203.9 509.9,201.2 C502.7,198.5 493.6,194.1 486.8,190.6 C480.0,187.1 474.0,183.8 469.0,180.0 C464.0,176.2 460.1,171.9 456.6,167.5 C453.1,163.1 450.5,158.6 447.8,153.3 C445.1,148.0 442.2,139.7 440.7,135.5 C439.1,131.3 438.9,129.8 438.5,128.0 Z" fill="none" stroke="#d4f0fc" stroke-width="1" stroke-opacity="0.75"/>
<path d="M657.2,132.6 C654.8,134.2 648.2,139.5 642.6,142.3 C637.0,145.1 628.3,147.5 623.3,149.6 C618.2,151.7 618.3,153.2 612.3,154.9 C606.3,156.6 596.8,158.7 587.4,159.9 C578.0,161.2 565.8,162.2 556.2,162.4 C546.6,162.6 539.2,162.2 530.0,161.3 C520.8,160.4 508.8,158.3 501.0,156.8 C493.2,155.3 489.2,154.2 483.3,152.4 C477.4,150.6 471.4,149.0 465.5,146.2 C459.6,143.4 452.2,138.4 447.8,135.5 C443.4,132.6 440.5,129.7 439.0,128.5" fill="none" stroke="#c6ebfa" stroke-width="1" stroke-opacity="0.6"/>
<path d="M455.2,105.9 C455.5,104.0 456.4,100.8 458.0,99.5 C459.6,98.2 462.6,97.8 464.9,98.1 C467.2,98.3 469.6,99.9 472.0,101.0 C474.4,102.1 476.6,103.9 479.1,104.5 C481.6,105.1 484.5,104.4 487.0,104.6 C489.5,104.8 492.3,104.3 494.0,105.5 C495.7,106.7 497.2,109.7 497.2,111.7 C497.2,113.7 495.5,116.3 494.0,117.5 C492.5,118.7 490.2,119.0 488.0,118.8 C485.8,118.5 483.7,116.6 481.0,116.0 C478.3,115.4 475.2,115.2 472.0,115.0 C468.8,114.8 464.7,115.2 462.0,114.5 C459.3,113.8 457.1,112.4 456.0,111.0 C454.9,109.6 454.9,107.8 455.2,105.9 Z" fill="#c1202f"/>
<g clip-path="url(#ct2)"><path d="M455.2,105.9 C455.5,104.0 456.4,100.8 458.0,99.5 C459.6,98.2 462.6,97.8 464.9,98.1 C467.2,98.3 469.6,99.9 472.0,101.0 C474.4,102.1 476.6,103.9 479.1,104.5 C481.6,105.1 484.5,104.4 487.0,104.6 C489.5,104.8 492.3,104.3 494.0,105.5 C495.7,106.7 497.2,109.7 497.2,111.7 C497.2,113.7 495.5,116.3 494.0,117.5 C492.5,118.7 490.2,119.0 488.0,118.8 C485.8,118.5 483.7,116.6 481.0,116.0 C478.3,115.4 475.2,115.2 472.0,115.0 C468.8,114.8 464.7,115.2 462.0,114.5 C459.3,113.8 457.1,112.4 456.0,111.0 C454.9,109.6 454.9,107.8 455.2,105.9 Z" fill="#8b1b2c"/></g>
<path d="M527.9,89.2 A12.3,10.8 0 0 0 552.5,89.2 Z" fill="#ecdb7c" fill-opacity="0.85"/>
<ellipse cx="540.2" cy="89.2" rx="12.3" ry="6.0" fill="url(#lysg)"/>
<path d="M580.9,95.3 A12.6,11.4 0 0 0 606.1,95.3 Z" fill="#ecdb7c" fill-opacity="0.85"/>
<ellipse cx="593.5" cy="95.3" rx="12.6" ry="6.0" fill="url(#lysg)"/>
<g clip-path="url(#cn2)"><path d="M438.5,128.0 C438.1,126.2 438.1,126.6 438.0,124.9 C437.9,123.2 437.6,119.9 438.0,117.8 C438.4,115.7 439.1,113.6 440.7,112.4 C442.3,111.2 445.1,111.1 447.8,110.8 C450.5,110.5 452.9,110.5 456.6,110.6 C460.3,110.7 465.3,111.6 470.0,111.6 C474.7,111.6 480.6,111.4 485.0,110.5 C489.4,109.6 494.9,107.8 496.5,106.0 C498.1,104.2 495.6,102.1 494.6,100.0 C493.6,97.9 491.8,95.6 490.7,93.6 C489.6,91.6 488.4,89.5 488.1,87.8 C487.8,86.1 487.7,85.1 488.8,83.3 C489.9,81.5 491.5,78.8 494.6,76.8 C497.7,74.8 501.6,73.2 507.5,71.6 C513.4,70.0 522.5,67.8 530.0,67.1 C537.5,66.4 545.7,66.8 552.4,67.2 C559.1,67.6 563.0,68.9 570.0,69.7 C577.0,70.5 586.1,70.5 594.2,72.1 C602.3,73.7 611.1,76.2 618.4,79.4 C625.7,82.6 632.1,87.1 637.8,91.5 C643.4,95.9 648.9,101.6 652.3,106.0 C655.7,110.4 657.2,114.5 658.4,118.1 C659.6,121.7 659.7,125.3 659.6,127.8 C659.5,130.3 659.6,128.2 658.0,133.0 C656.4,137.8 653.3,149.7 649.9,156.9 C646.5,164.1 643.0,170.1 637.8,176.2 C632.5,182.2 625.7,188.8 618.4,193.2 C611.1,197.6 602.3,200.7 594.2,202.9 C586.1,205.1 580.7,205.9 570.0,206.5 C559.3,207.1 540.0,207.5 530.0,206.6 C520.0,205.7 517.1,203.9 509.9,201.2 C502.7,198.5 493.6,194.1 486.8,190.6 C480.0,187.1 474.0,183.8 469.0,180.0 C464.0,176.2 460.1,171.9 456.6,167.5 C453.1,163.1 450.5,158.6 447.8,153.3 C445.1,148.0 442.2,139.7 440.7,135.5 C439.1,131.3 438.9,129.8 438.5,128.0 Z" fill="#b2b99f"/><path d="M438.5,128.0 C438.3,127.4 438.1,126.6 438.0,124.9 C437.9,123.2 437.6,119.9 438.0,117.8 C438.4,115.7 439.1,113.6 440.7,112.4 C442.3,111.2 445.1,111.1 447.8,110.8 C450.5,110.5 452.9,110.5 456.6,110.6 C460.3,110.7 465.3,111.6 470.0,111.6 C474.7,111.6 480.6,111.4 485.0,110.5 C489.4,109.6 494.4,107.8 496.5,106.0 C498.6,104.2 497.9,102.1 497.5,100.0 C497.1,97.9 495.3,95.6 494.0,93.6 C492.7,91.6 490.4,89.7 489.5,88.0 C488.6,86.3 487.9,85.2 488.8,83.3 C489.7,81.4 491.5,78.8 494.6,76.8 C497.7,74.8 501.6,73.2 507.5,71.6 C513.4,70.0 522.5,67.8 530.0,67.1 C537.5,66.4 545.7,66.8 552.4,67.2 C559.1,67.6 563.0,68.9 570.0,69.7 C577.0,70.5 586.1,70.5 594.2,72.1 C602.3,73.7 611.1,76.2 618.4,79.4 C625.7,82.6 632.1,87.1 637.8,91.5 C643.4,95.9 648.9,101.6 652.3,106.0 C655.7,110.4 657.2,114.5 658.4,118.1 C659.6,121.7 659.7,125.3 659.6,127.8 C659.5,130.3 658.4,132.2 658.0,133.0 C657.6,133.8 659.8,131.0 657.2,132.6 C654.6,134.2 648.2,139.5 642.6,142.3 C637.0,145.1 628.3,147.5 623.3,149.6 C618.2,151.7 618.3,153.2 612.3,154.9 C606.3,156.6 596.8,158.7 587.4,159.9 C578.0,161.2 565.8,162.2 556.2,162.4 C546.6,162.6 539.2,162.2 530.0,161.3 C520.8,160.4 508.8,158.3 501.0,156.8 C493.2,155.3 489.2,154.2 483.3,152.4 C477.4,150.6 471.4,149.0 465.5,146.2 C459.6,143.4 452.2,138.4 447.8,135.5 C443.4,132.6 440.6,129.8 439.0,128.5 C437.4,127.2 438.7,128.6 438.5,128.0 Z" fill="#d7cca9"/></g>
<path d="M535.6,133.7 C536.1,131.0 537.6,126.5 540.0,123.7 C542.4,120.9 545.6,118.3 550.0,116.8 C554.4,115.2 560.4,114.5 566.2,114.4 C572.0,114.3 579.7,115.3 584.9,116.2 C590.1,117.1 592.7,118.5 597.3,120.0 C601.9,121.5 607.9,123.3 612.3,125.0 C616.7,126.7 621.3,128.1 623.5,130.0 C625.7,131.9 625.8,134.1 625.4,136.2 C625.0,138.3 624.2,140.5 621.0,142.4 C617.8,144.3 612.1,146.2 606.1,147.4 C600.1,148.7 592.2,149.8 584.9,149.9 C577.6,150.0 569.3,149.0 562.4,148.0 C555.5,147.0 548.0,145.0 543.7,143.7 C539.4,142.3 538.1,141.6 536.8,139.9 C535.4,138.2 535.1,136.4 535.6,133.7 Z" fill="url(#nucg)"/>
<ellipse cx="581" cy="132.6" rx="12.6" ry="6" fill="url(#innerg)" transform="rotate(4 581 132.6)"/>
<line x1="666.7" y1="61.8" x2="596.5" y2="95.3" stroke="#6a6a6a" stroke-width="1.3"/>
<text transform="translate(676.5,62.6) scale(1,1.000)" font-size="21" font-weight="normal" fill="#8a8a8a" textLength="159.3" lengthAdjust="spacing" stroke="#9c9c9c" stroke-width="0.45">Lysosome, whose</text>
<text transform="translate(676.5,86.1) scale(1,1.000)" font-size="21" font-weight="normal" fill="#8a8a8a" textLength="186.9" lengthAdjust="spacing" stroke="#9c9c9c" stroke-width="0.45">enzymes break down</text>
<text transform="translate(676.5,109.6) scale(1,1.000)" font-size="21" font-weight="normal" fill="#8a8a8a" textLength="133.4" lengthAdjust="spacing" stroke="#9c9c9c" stroke-width="0.45">lipids, proteins,</text>
<text transform="translate(676.5,133.1) scale(1,1.000)" font-size="21" font-weight="normal" fill="#8a8a8a" textLength="171.2" lengthAdjust="spacing" stroke="#9c9c9c" stroke-width="0.45">carbohydrates, and</text>
<text transform="translate(676.5,156.6) scale(1,1.000)" font-size="21" font-weight="normal" fill="#8a8a8a" textLength="206.0" lengthAdjust="spacing" stroke="#9c9c9c" stroke-width="0.45">nucleic acids; products</text>
<text transform="translate(676.5,180.1) scale(1,1.000)" font-size="21" font-weight="normal" fill="#8a8a8a" textLength="186.8" lengthAdjust="spacing" stroke="#9c9c9c" stroke-width="0.45">removed by reuptake</text>
<text transform="translate(676.5,203.6) scale(1,1.000)" font-size="21" font-weight="normal" fill="#8a8a8a" textLength="104.5" lengthAdjust="spacing" stroke="#9c9c9c" stroke-width="0.45">or excretion</text>
<rect x="1" y="292" width="880" height="3" fill="#c8c8c8"/>
<text transform="translate(1.5,337.7) scale(1,1.060)" font-size="26" font-weight="bold" fill="#7a7a7a" textLength="369.0" lengthAdjust="spacing">Gaucher disease macrophage</text>
<path d="M38.3,438.0 C36.6,437.7 34.1,438.2 32.6,439.2 C31.1,440.2 29.9,441.2 29.4,444.1 C29.0,447.0 30.8,452.7 30.1,456.8 C29.3,460.8 25.5,465.5 24.8,468.4 C24.2,471.3 25.0,472.6 26.0,474.1 C27.0,475.6 29.1,476.9 30.9,477.3 C32.6,477.6 35.1,477.1 36.6,476.1 C38.1,475.1 39.3,474.1 39.8,471.2 C40.2,468.3 38.4,462.6 39.1,458.5 C39.9,454.5 43.7,449.8 44.4,446.9 C45.0,444.0 44.2,442.7 43.2,441.2 C42.2,439.7 40.1,438.4 38.3,438.0 Z" fill="#c1202f"/>
<path d="M6.0,479.9 C4.7,481.3 3.7,483.8 3.7,485.8 C3.7,487.7 3.8,489.4 6.3,491.6 C8.7,493.7 14.9,495.6 18.2,498.7 C21.4,501.9 23.3,508.1 25.5,510.5 C27.8,512.9 29.7,512.9 31.7,512.9 C33.7,512.9 36.3,511.7 37.7,510.3 C39.1,508.8 40.1,506.1 40.1,504.1 C40.1,502.1 39.9,500.2 37.5,498.1 C35.0,495.9 28.6,494.3 25.3,491.2 C22.1,488.1 20.0,481.9 17.7,479.6 C15.5,477.3 13.8,477.3 11.8,477.3 C9.9,477.3 7.4,478.4 6.0,479.9 Z" fill="#c1202f"/>
<path d="M59.8,484.0 C59.5,481.9 58.4,478.3 58.9,475.2 C59.4,472.1 60.2,468.6 62.8,465.5 C65.4,462.4 69.3,459.4 74.4,456.8 C79.5,454.2 88.1,451.6 93.6,449.7 C99.1,447.8 103.6,447.1 107.2,445.6 C110.8,444.1 112.2,443.5 115.4,440.9 C118.6,438.3 123.1,432.5 126.3,430.0 C129.5,427.5 131.2,426.8 134.4,425.9 C137.6,424.9 140.1,424.5 145.3,424.3 C150.5,424.1 159.6,424.1 165.7,424.5 C171.8,424.9 176.3,425.6 182.0,426.6 C187.7,427.6 194.6,428.9 200.0,430.6 C205.4,432.3 207.8,433.6 214.2,436.9 C220.6,440.2 231.1,446.4 238.4,450.3 C245.7,454.2 252.2,456.8 257.8,460.0 C263.4,463.2 268.7,466.4 272.3,469.6 C275.9,472.8 278.3,476.5 279.6,479.3 C280.9,482.1 280.2,484.9 280.1,486.6 C280.0,488.3 279.7,487.3 279.0,489.5 C278.3,491.7 277.9,494.5 276.0,499.9 C274.1,505.3 271.3,514.9 267.5,521.7 C263.7,528.6 258.6,535.8 253.0,541.0 C247.3,546.2 240.1,550.0 233.6,553.2 C227.1,556.4 221.5,558.4 214.2,560.4 C206.9,562.4 196.5,564.3 190.0,565.3 C183.5,566.3 181.3,566.6 175.0,566.3 C168.7,566.0 159.6,565.0 151.9,563.4 C144.2,561.8 136.4,559.4 128.7,556.6 C120.9,553.9 112.5,550.8 105.4,546.9 C98.3,543.0 91.5,538.2 86.0,533.4 C80.5,528.6 76.1,523.4 72.4,517.9 C68.7,512.4 65.7,505.4 63.7,500.4 C61.7,495.4 61.1,490.7 60.5,488.0 C59.9,485.3 60.1,486.1 59.8,484.0 Z" fill="url(#bowl)"/>
<path d="M59.8,484.0 C59.5,481.9 58.4,478.3 58.9,475.2 C59.4,472.1 60.2,468.6 62.8,465.5 C65.4,462.4 69.3,459.4 74.4,456.8 C79.5,454.2 88.1,451.6 93.6,449.7 C99.1,447.8 103.6,447.1 107.2,445.6 C110.8,444.1 112.2,443.5 115.4,440.9 C118.6,438.3 123.1,432.5 126.3,430.0 C129.5,427.5 131.2,426.8 134.4,425.9 C137.6,424.9 140.1,424.5 145.3,424.3 C150.5,424.1 159.6,424.1 165.7,424.5 C171.8,424.9 176.3,425.6 182.0,426.6 C187.7,427.6 194.6,428.9 200.0,430.6 C205.4,432.3 207.8,433.6 214.2,436.9 C220.6,440.2 231.1,446.4 238.4,450.3 C245.7,454.2 252.2,456.8 257.8,460.0 C263.4,463.2 268.7,466.4 272.3,469.6 C275.9,472.8 278.3,476.5 279.6,479.3 C280.9,482.1 280.2,484.9 280.1,486.6 C280.0,488.3 279.7,487.3 279.0,489.5 C278.3,491.7 277.9,494.5 276.0,499.9 C274.1,505.3 271.3,514.9 267.5,521.7 C263.7,528.6 258.6,535.8 253.0,541.0 C247.3,546.2 240.1,550.0 233.6,553.2 C227.1,556.4 221.5,558.4 214.2,560.4 C206.9,562.4 196.5,564.3 190.0,565.3 C183.5,566.3 181.3,566.6 175.0,566.3 C168.7,566.0 159.6,565.0 151.9,563.4 C144.2,561.8 136.4,559.4 128.7,556.6 C120.9,553.9 112.5,550.8 105.4,546.9 C98.3,543.0 91.5,538.2 86.0,533.4 C80.5,528.6 76.1,523.4 72.4,517.9 C68.7,512.4 65.7,505.4 63.7,500.4 C61.7,495.4 61.1,490.7 60.5,488.0 C59.9,485.3 60.1,486.1 59.8,484.0 Z" fill="url(#bowlhi)"/>
<path d="M59.8,484.0 C59.4,482.4 58.4,478.3 58.9,475.2 C59.4,472.1 60.2,468.6 62.8,465.5 C65.4,462.4 69.3,459.4 74.4,456.8 C79.5,454.2 88.1,451.6 93.6,449.7 C99.1,447.8 103.6,447.1 107.2,445.6 C110.8,444.1 112.2,443.5 115.4,440.9 C118.6,438.3 123.1,432.5 126.3,430.0 C129.5,427.5 131.2,426.8 134.4,425.9 C137.6,424.9 140.1,424.5 145.3,424.3 C150.5,424.1 159.6,424.1 165.7,424.5 C171.8,424.9 176.3,425.6 182.0,426.6 C187.7,427.6 194.6,428.9 200.0,430.6 C205.4,432.3 207.8,433.6 214.2,436.9 C220.6,440.2 231.1,446.4 238.4,450.3 C245.7,454.2 252.2,456.8 257.8,460.0 C263.4,463.2 268.7,466.4 272.3,469.6 C275.9,472.8 278.3,476.5 279.6,479.3 C280.9,482.1 280.2,484.9 280.1,486.6 C280.0,488.3 281.9,487.3 279.0,489.5 C276.1,491.7 269.1,496.4 262.6,500.0 C256.1,503.6 248.3,508.5 240.0,511.1 C231.7,513.7 223.6,514.3 212.6,515.6 C201.6,516.9 184.6,518.4 173.8,518.8 C163.0,519.2 154.9,518.5 148.0,518.0 C141.1,517.5 138.3,517.1 132.5,516.0 C126.7,514.9 119.7,513.1 113.2,511.1 C106.8,509.2 100.3,507.1 93.8,504.3 C87.3,501.6 79.9,497.9 74.4,494.6 C68.9,491.3 63.4,486.3 61.0,484.5 C58.6,482.7 60.1,485.6 59.8,484.0 Z" fill="url(#topg)"/>
<path d="M59.8,484.0 C59.5,481.9 58.4,478.3 58.9,475.2 C59.4,472.1 60.2,468.6 62.8,465.5 C65.4,462.4 69.3,459.4 74.4,456.8 C79.5,454.2 88.1,451.6 93.6,449.7 C99.1,447.8 103.6,447.1 107.2,445.6 C110.8,444.1 112.2,443.5 115.4,440.9 C118.6,438.3 123.1,432.5 126.3,430.0 C129.5,427.5 131.2,426.8 134.4,425.9 C137.6,424.9 140.1,424.5 145.3,424.3 C150.5,424.1 159.6,424.1 165.7,424.5 C171.8,424.9 176.3,425.6 182.0,426.6 C187.7,427.6 194.6,428.9 200.0,430.6 C205.4,432.3 207.8,433.6 214.2,436.9 C220.6,440.2 231.1,446.4 238.4,450.3 C245.7,454.2 252.2,456.8 257.8,460.0 C263.4,463.2 268.7,466.4 272.3,469.6 C275.9,472.8 278.3,476.5 279.6,479.3 C280.9,482.1 280.2,484.9 280.1,486.6 C280.0,488.3 279.7,487.3 279.0,489.5 C278.3,491.7 277.9,494.5 276.0,499.9 C274.1,505.3 271.3,514.9 267.5,521.7 C263.7,528.6 258.6,535.8 253.0,541.0 C247.3,546.2 240.1,550.0 233.6,553.2 C227.1,556.4 221.5,558.4 214.2,560.4 C206.9,562.4 196.5,564.3 190.0,565.3 C183.5,566.3 181.3,566.6 175.0,566.3 C168.7,566.0 159.6,565.0 151.9,563.4 C144.2,561.8 136.4,559.4 128.7,556.6 C120.9,553.9 112.5,550.8 105.4,546.9 C98.3,543.0 91.5,538.2 86.0,533.4 C80.5,528.6 76.1,523.4 72.4,517.9 C68.7,512.4 65.7,505.4 63.7,500.4 C61.7,495.4 61.1,490.7 60.5,488.0 C59.9,485.3 60.1,486.1 59.8,484.0 Z" fill="none" stroke="#d4f0fc" stroke-width="1" stroke-opacity="0.75"/>
<path d="M262.6,500.0 C258.8,501.9 248.3,508.5 240.0,511.1 C231.7,513.7 223.6,514.3 212.6,515.6 C201.6,516.9 184.6,518.4 173.8,518.8 C163.0,519.2 154.9,518.5 148.0,518.0 C141.1,517.5 138.3,517.1 132.5,516.0 C126.7,514.9 119.7,513.1 113.2,511.1 C106.8,509.2 100.3,507.1 93.8,504.3 C87.3,501.6 79.9,497.9 74.4,494.6 C68.9,491.3 63.2,486.2 61.0,484.5" fill="none" stroke="#c6ebfa" stroke-width="1" stroke-opacity="0.6"/>
<path d="M99.6,473.3 A12.6,11.2 0 0 0 124.8,473.3 Z" fill="#ecdb7c" fill-opacity="0.85"/>
<ellipse cx="112.2" cy="473.3" rx="12.6" ry="5.9" fill="url(#lysg)"/>
<path d="M174.6,443.9 A12.6,10.8 0 0 0 199.8,443.9 Z" fill="#ecdb7c" fill-opacity="0.85"/>
<ellipse cx="187.2" cy="443.9" rx="12.6" ry="5.8" fill="url(#lysg)"/>
<g clip-path="url(#cn3)"><path d="M59.8,484.0 C59.5,481.9 58.4,478.3 58.9,475.2 C59.4,472.1 60.2,468.6 62.8,465.5 C65.4,462.4 69.3,459.4 74.4,456.8 C79.5,454.2 88.1,451.6 93.6,449.7 C99.1,447.8 103.6,447.1 107.2,445.6 C110.8,444.1 112.2,443.5 115.4,440.9 C118.6,438.3 123.1,432.5 126.3,430.0 C129.5,427.5 131.2,426.8 134.4,425.9 C137.6,424.9 140.1,424.5 145.3,424.3 C150.5,424.1 159.6,424.1 165.7,424.5 C171.8,424.9 176.3,425.6 182.0,426.6 C187.7,427.6 194.6,428.9 200.0,430.6 C205.4,432.3 207.8,433.6 214.2,436.9 C220.6,440.2 231.1,446.4 238.4,450.3 C245.7,454.2 252.2,456.8 257.8,460.0 C263.4,463.2 268.7,466.4 272.3,469.6 C275.9,472.8 278.3,476.5 279.6,479.3 C280.9,482.1 280.2,484.9 280.1,486.6 C280.0,488.3 279.7,487.3 279.0,489.5 C278.3,491.7 277.9,494.5 276.0,499.9 C274.1,505.3 271.3,514.9 267.5,521.7 C263.7,528.6 258.6,535.8 253.0,541.0 C247.3,546.2 240.1,550.0 233.6,553.2 C227.1,556.4 221.5,558.4 214.2,560.4 C206.9,562.4 196.5,564.3 190.0,565.3 C183.5,566.3 181.3,566.6 175.0,566.3 C168.7,566.0 159.6,565.0 151.9,563.4 C144.2,561.8 136.4,559.4 128.7,556.6 C120.9,553.9 112.5,550.8 105.4,546.9 C98.3,543.0 91.5,538.2 86.0,533.4 C80.5,528.6 76.1,523.4 72.4,517.9 C68.7,512.4 65.7,505.4 63.7,500.4 C61.7,495.4 61.1,490.7 60.5,488.0 C59.9,485.3 60.1,486.1 59.8,484.0 Z" fill="#b2b99f"/><path d="M59.8,484.0 C59.4,482.4 58.4,478.3 58.9,475.2 C59.4,472.1 60.2,468.6 62.8,465.5 C65.4,462.4 69.3,459.4 74.4,456.8 C79.5,454.2 88.1,451.6 93.6,449.7 C99.1,447.8 103.6,447.1 107.2,445.6 C110.8,444.1 112.2,443.5 115.4,440.9 C118.6,438.3 123.1,432.5 126.3,430.0 C129.5,427.5 131.2,426.8 134.4,425.9 C137.6,424.9 140.1,424.5 145.3,424.3 C150.5,424.1 159.6,424.1 165.7,424.5 C171.8,424.9 176.3,425.6 182.0,426.6 C187.7,427.6 194.6,428.9 200.0,430.6 C205.4,432.3 207.8,433.6 214.2,436.9 C220.6,440.2 231.1,446.4 238.4,450.3 C245.7,454.2 252.2,456.8 257.8,460.0 C263.4,463.2 268.7,466.4 272.3,469.6 C275.9,472.8 278.3,476.5 279.6,479.3 C280.9,482.1 280.2,484.9 280.1,486.6 C280.0,488.3 281.9,487.3 279.0,489.5 C276.1,491.7 269.1,496.4 262.6,500.0 C256.1,503.6 248.3,508.5 240.0,511.1 C231.7,513.7 223.6,514.3 212.6,515.6 C201.6,516.9 184.6,518.4 173.8,518.8 C163.0,519.2 154.9,518.5 148.0,518.0 C141.1,517.5 138.3,517.1 132.5,516.0 C126.7,514.9 119.7,513.1 113.2,511.1 C106.8,509.2 100.3,507.1 93.8,504.3 C87.3,501.6 79.9,497.9 74.4,494.6 C68.9,491.3 63.4,486.3 61.0,484.5 C58.6,482.7 60.1,485.6 59.8,484.0 Z" fill="#d7cca9"/></g>
<ellipse cx="186.4" cy="490.7" rx="45.6" ry="19.1" fill="url(#nucg)"/>
<ellipse cx="186.7" cy="489.5" rx="13.0" ry="5.8" fill="url(#innerg)"/>
<line x1="245.0" y1="413.7" x2="107.9" y2="473.2" stroke="#6a6a6a" stroke-width="1.3"/>
<line x1="245.0" y1="413.7" x2="191.6" y2="444.9" stroke="#6a6a6a" stroke-width="1.3"/>
<text transform="translate(253.0,419.6) scale(1,1.000)" font-size="21" font-weight="normal" fill="#8a8a8a" textLength="100.0" lengthAdjust="spacing" stroke="#9c9c9c" stroke-width="0.45">Lysosomes</text>
<path d="M305.3,455.3 L332.0,482.0 L305.3,507.9 L299.7,502.3 L320.7,482.0 L299.7,460.9 Z" fill="#c9c9c9"/>
<path d="M351.1,488.8 C351.2,486.8 351.0,481.8 352.3,479.7 C353.6,477.6 355.6,477.1 359.0,476.3 C362.4,475.6 368.5,475.2 372.6,475.2 C376.7,475.2 379.7,476.1 383.8,476.2 C387.9,476.3 395.5,477.0 397.3,475.6 C399.1,474.2 395.7,470.6 394.8,467.8 C393.9,465.0 393.1,461.8 392.2,458.8 C391.3,455.8 390.0,452.4 389.6,449.7 C389.2,447.0 388.4,445.0 389.6,442.6 C390.8,440.2 393.4,437.8 396.7,435.5 C400.0,433.2 404.9,430.7 409.6,429.0 C414.3,427.3 418.3,425.9 425.0,425.2 C431.7,424.5 442.3,424.5 449.8,424.7 C457.3,424.9 462.4,425.6 470.0,426.3 C477.6,427.0 486.8,426.9 495.1,428.8 C503.5,430.7 512.2,434.1 520.1,437.6 C528.0,441.2 536.4,445.9 542.7,450.1 C549.0,454.3 554.0,458.4 557.7,462.6 C561.5,466.8 563.7,471.4 565.2,475.2 C566.7,479.0 566.5,482.9 566.5,485.2 C566.5,487.5 565.9,487.3 565.5,489.0 C565.1,490.7 565.7,490.8 564.0,495.2 C562.3,499.6 559.2,508.5 555.2,515.2 C551.2,521.9 546.1,529.4 540.2,535.3 C534.4,541.1 527.6,545.9 520.1,550.3 C512.6,554.7 504.1,559.0 495.1,561.6 C486.1,564.2 475.1,565.5 466.0,566.0 C456.9,566.5 448.4,565.7 440.4,564.5 C432.4,563.3 425.3,561.4 417.8,558.9 C410.3,556.4 402.7,553.6 395.2,549.8 C387.7,546.0 378.2,541.2 372.6,536.3 C367.0,531.4 364.3,526.1 361.3,520.4 C358.3,514.7 356.1,507.0 354.5,502.3 C352.9,497.6 352.1,494.2 351.5,492.0 C350.9,489.8 351.0,490.9 351.1,488.8 Z" fill="url(#bowl)"/>
<path d="M351.1,488.8 C351.2,486.8 351.0,481.8 352.3,479.7 C353.6,477.6 355.6,477.1 359.0,476.3 C362.4,475.6 368.5,475.2 372.6,475.2 C376.7,475.2 379.7,476.1 383.8,476.2 C387.9,476.3 395.5,477.0 397.3,475.6 C399.1,474.2 395.7,470.6 394.8,467.8 C393.9,465.0 393.1,461.8 392.2,458.8 C391.3,455.8 390.0,452.4 389.6,449.7 C389.2,447.0 388.4,445.0 389.6,442.6 C390.8,440.2 393.4,437.8 396.7,435.5 C400.0,433.2 404.9,430.7 409.6,429.0 C414.3,427.3 418.3,425.9 425.0,425.2 C431.7,424.5 442.3,424.5 449.8,424.7 C457.3,424.9 462.4,425.6 470.0,426.3 C477.6,427.0 486.8,426.9 495.1,428.8 C503.5,430.7 512.2,434.1 520.1,437.6 C528.0,441.2 536.4,445.9 542.7,450.1 C549.0,454.3 554.0,458.4 557.7,462.6 C561.5,466.8 563.7,471.4 565.2,475.2 C566.7,479.0 566.5,482.9 566.5,485.2 C566.5,487.5 565.9,487.3 565.5,489.0 C565.1,490.7 565.7,490.8 564.0,495.2 C562.3,499.6 559.2,508.5 555.2,515.2 C551.2,521.9 546.1,529.4 540.2,535.3 C534.4,541.1 527.6,545.9 520.1,550.3 C512.6,554.7 504.1,559.0 495.1,561.6 C486.1,564.2 475.1,565.5 466.0,566.0 C456.9,566.5 448.4,565.7 440.4,564.5 C432.4,563.3 425.3,561.4 417.8,558.9 C410.3,556.4 402.7,553.6 395.2,549.8 C387.7,546.0 378.2,541.2 372.6,536.3 C367.0,531.4 364.3,526.1 361.3,520.4 C358.3,514.7 356.1,507.0 354.5,502.3 C352.9,497.6 352.1,494.2 351.5,492.0 C350.9,489.8 351.0,490.9 351.1,488.8 Z" fill="url(#bowlhi)"/>
<path d="M351.1,488.8 C350.9,487.1 351.0,481.8 352.3,479.7 C353.6,477.6 355.6,477.1 359.0,476.3 C362.4,475.6 368.5,475.2 372.6,475.2 C376.7,475.2 379.7,476.1 383.8,476.2 C387.9,476.3 394.1,476.0 397.3,475.8 C400.5,475.6 401.2,475.9 403.2,474.9 C405.1,473.9 408.1,471.4 409.0,469.8 C409.9,468.2 409.9,467.2 408.3,465.2 C406.7,463.1 402.4,460.3 399.3,457.5 C396.2,454.7 391.2,450.9 389.6,448.4 C388.0,445.9 388.4,444.8 389.6,442.6 C390.8,440.5 393.4,437.8 396.7,435.5 C400.0,433.2 404.9,430.7 409.6,429.0 C414.3,427.3 418.3,425.9 425.0,425.2 C431.7,424.5 442.3,424.5 449.8,424.7 C457.3,424.9 462.4,425.6 470.0,426.3 C477.6,427.0 486.8,426.9 495.1,428.8 C503.5,430.7 512.2,434.1 520.1,437.6 C528.0,441.2 536.4,445.9 542.7,450.1 C549.0,454.3 554.0,458.4 557.7,462.6 C561.5,466.8 563.7,471.4 565.2,475.2 C566.7,479.0 566.5,482.9 566.5,485.2 C566.5,487.5 568.2,486.5 565.5,489.0 C562.8,491.5 555.7,497.1 550.2,500.2 C544.7,503.3 537.7,505.7 532.7,507.7 C527.7,509.7 526.4,510.5 520.1,512.0 C513.8,513.5 503.4,515.3 495.0,516.5 C486.6,517.7 479.1,518.7 470.0,519.0 C460.9,519.3 449.1,518.7 440.4,518.2 C431.7,517.7 425.3,517.0 417.8,515.9 C410.3,514.8 402.7,513.7 395.2,511.4 C387.7,509.1 379.6,505.9 372.6,502.3 C365.6,498.7 357.0,492.1 353.4,489.9 C349.8,487.6 351.3,490.5 351.1,488.8 Z" fill="url(#topg)"/>
<path d="M351.1,488.8 C351.2,486.8 351.0,481.8 352.3,479.7 C353.6,477.6 355.6,477.1 359.0,476.3 C362.4,475.6 368.5,475.2 372.6,475.2 C376.7,475.2 379.7,476.1 383.8,476.2 C387.9,476.3 395.5,477.0 397.3,475.6 C399.1,474.2 395.7,470.6 394.8,467.8 C393.9,465.0 393.1,461.8 392.2,458.8 C391.3,455.8 390.0,452.4 389.6,449.7 C389.2,447.0 388.4,445.0 389.6,442.6 C390.8,440.2 393.4,437.8 396.7,435.5 C400.0,433.2 404.9,430.7 409.6,429.0 C414.3,427.3 418.3,425.9 425.0,425.2 C431.7,424.5 442.3,424.5 449.8,424.7 C457.3,424.9 462.4,425.6 470.0,426.3 C477.6,427.0 486.8,426.9 495.1,428.8 C503.5,430.7 512.2,434.1 520.1,437.6 C528.0,441.2 536.4,445.9 542.7,450.1 C549.0,454.3 554.0,458.4 557.7,462.6 C561.5,466.8 563.7,471.4 565.2,475.2 C566.7,479.0 566.5,482.9 566.5,485.2 C566.5,487.5 565.9,487.3 565.5,489.0 C565.1,490.7 565.7,490.8 564.0,495.2 C562.3,499.6 559.2,508.5 555.2,515.2 C551.2,521.9 546.1,529.4 540.2,535.3 C534.4,541.1 527.6,545.9 520.1,550.3 C512.6,554.7 504.1,559.0 495.1,561.6 C486.1,564.2 475.1,565.5 466.0,566.0 C456.9,566.5 448.4,565.7 440.4,564.5 C432.4,563.3 425.3,561.4 417.8,558.9 C410.3,556.4 402.7,553.6 395.2,549.8 C387.7,546.0 378.2,541.2 372.6,536.3 C367.0,531.4 364.3,526.1 361.3,520.4 C358.3,514.7 356.1,507.0 354.5,502.3 C352.9,497.6 352.1,494.2 351.5,492.0 C350.9,489.8 351.0,490.9 351.1,488.8 Z" fill="none" stroke="#d4f0fc" stroke-width="1" stroke-opacity="0.75"/>
<path d="M550.2,500.2 C547.3,501.4 537.7,505.7 532.7,507.7 C527.7,509.7 526.4,510.5 520.1,512.0 C513.8,513.5 503.4,515.3 495.0,516.5 C486.6,517.7 479.1,518.7 470.0,519.0 C460.9,519.3 449.1,518.7 440.4,518.2 C431.7,517.7 425.3,517.0 417.8,515.9 C410.3,514.8 402.7,513.7 395.2,511.4 C387.7,509.1 379.6,505.9 372.6,502.3 C365.6,498.7 356.6,492.0 353.4,489.9" fill="none" stroke="#c6ebfa" stroke-width="1" stroke-opacity="0.6"/>
<path d="M435.5,446.8 A12.4,10.2 0 0 0 460.3,446.8 Z" fill="#ecdb7c" fill-opacity="0.85"/>
<ellipse cx="447.9" cy="446.8" rx="12.4" ry="5.9" fill="url(#lysg)"/>
<path d="M488.8,452.6 A12.9,11.3 0 0 0 514.6,452.6 Z" fill="#ecdb7c" fill-opacity="0.85"/>
<ellipse cx="501.7" cy="452.6" rx="12.9" ry="5.5" fill="url(#lysg)"/>
<g clip-path="url(#cn4)"><path d="M351.1,488.8 C351.2,486.8 351.0,481.8 352.3,479.7 C353.6,477.6 355.6,477.1 359.0,476.3 C362.4,475.6 368.5,475.2 372.6,475.2 C376.7,475.2 379.7,476.1 383.8,476.2 C387.9,476.3 395.5,477.0 397.3,475.6 C399.1,474.2 395.7,470.6 394.8,467.8 C393.9,465.0 393.1,461.8 392.2,458.8 C391.3,455.8 390.0,452.4 389.6,449.7 C389.2,447.0 388.4,445.0 389.6,442.6 C390.8,440.2 393.4,437.8 396.7,435.5 C400.0,433.2 404.9,430.7 409.6,429.0 C414.3,427.3 418.3,425.9 425.0,425.2 C431.7,424.5 442.3,424.5 449.8,424.7 C457.3,424.9 462.4,425.6 470.0,426.3 C477.6,427.0 486.8,426.9 495.1,428.8 C503.5,430.7 512.2,434.1 520.1,437.6 C528.0,441.2 536.4,445.9 542.7,450.1 C549.0,454.3 554.0,458.4 557.7,462.6 C561.5,466.8 563.7,471.4 565.2,475.2 C566.7,479.0 566.5,482.9 566.5,485.2 C566.5,487.5 565.9,487.3 565.5,489.0 C565.1,490.7 565.7,490.8 564.0,495.2 C562.3,499.6 559.2,508.5 555.2,515.2 C551.2,521.9 546.1,529.4 540.2,535.3 C534.4,541.1 527.6,545.9 520.1,550.3 C512.6,554.7 504.1,559.0 495.1,561.6 C486.1,564.2 475.1,565.5 466.0,566.0 C456.9,566.5 448.4,565.7 440.4,564.5 C432.4,563.3 425.3,561.4 417.8,558.9 C410.3,556.4 402.7,553.6 395.2,549.8 C387.7,546.0 378.2,541.2 372.6,536.3 C367.0,531.4 364.3,526.1 361.3,520.4 C358.3,514.7 356.1,507.0 354.5,502.3 C352.9,497.6 352.1,494.2 351.5,492.0 C350.9,489.8 351.0,490.9 351.1,488.8 Z" fill="#b2b99f"/><path d="M351.1,488.8 C350.9,487.1 351.0,481.8 352.3,479.7 C353.6,477.6 355.6,477.1 359.0,476.3 C362.4,475.6 368.5,475.2 372.6,475.2 C376.7,475.2 379.7,476.1 383.8,476.2 C387.9,476.3 394.1,476.0 397.3,475.8 C400.5,475.6 401.2,475.9 403.2,474.9 C405.1,473.9 408.1,471.4 409.0,469.8 C409.9,468.2 409.9,467.2 408.3,465.2 C406.7,463.1 402.4,460.3 399.3,457.5 C396.2,454.7 391.2,450.9 389.6,448.4 C388.0,445.9 388.4,444.8 389.6,442.6 C390.8,440.5 393.4,437.8 396.7,435.5 C400.0,433.2 404.9,430.7 409.6,429.0 C414.3,427.3 418.3,425.9 425.0,425.2 C431.7,424.5 442.3,424.5 449.8,424.7 C457.3,424.9 462.4,425.6 470.0,426.3 C477.6,427.0 486.8,426.9 495.1,428.8 C503.5,430.7 512.2,434.1 520.1,437.6 C528.0,441.2 536.4,445.9 542.7,450.1 C549.0,454.3 554.0,458.4 557.7,462.6 C561.5,466.8 563.7,471.4 565.2,475.2 C566.7,479.0 566.5,482.9 566.5,485.2 C566.5,487.5 568.2,486.5 565.5,489.0 C562.8,491.5 555.7,497.1 550.2,500.2 C544.7,503.3 537.7,505.7 532.7,507.7 C527.7,509.7 526.4,510.5 520.1,512.0 C513.8,513.5 503.4,515.3 495.0,516.5 C486.6,517.7 479.1,518.7 470.0,519.0 C460.9,519.3 449.1,518.7 440.4,518.2 C431.7,517.7 425.3,517.0 417.8,515.9 C410.3,514.8 402.7,513.7 395.2,511.4 C387.7,509.1 379.6,505.9 372.6,502.3 C365.6,498.7 357.0,492.1 353.4,489.9 C349.8,487.6 351.3,490.5 351.1,488.8 Z" fill="#d7cca9"/></g>
<path d="M442.7,489.9 C443.3,487.4 444.8,482.5 447.0,480.0 C449.2,477.5 452.2,476.3 456.0,475.0 C459.8,473.7 463.5,472.2 470.0,472.0 C476.5,471.8 487.6,472.5 495.1,473.9 C502.6,475.3 509.2,477.9 515.1,480.2 C521.0,482.5 527.3,485.2 530.2,487.7 C533.1,490.2 533.6,492.7 532.7,495.2 C531.9,497.7 529.3,500.8 525.1,502.7 C520.9,504.6 514.0,505.6 507.6,506.5 C501.2,507.4 494.1,508.0 487.0,508.0 C479.9,508.0 471.2,507.7 465.0,506.5 C458.8,505.3 453.6,502.9 450.0,501.0 C446.4,499.1 444.7,496.9 443.5,495.0 C442.3,493.1 442.1,492.4 442.7,489.9 Z" fill="url(#nucg)"/>
<ellipse cx="488.2" cy="489.2" rx="13.2" ry="5.7" fill="url(#innerg)"/>
<line x1="523.9" y1="415.0" x2="505.1" y2="452.6" stroke="#6a6a6a" stroke-width="1.3"/>
<text transform="translate(471.9,337.6) scale(1,1.000)" font-size="21" font-weight="normal" fill="#8a8a8a" textLength="159.3" lengthAdjust="spacing" stroke="#9c9c9c" stroke-width="0.45">Lysosome without</text>
<text transform="translate(471.9,360.7) scale(1,1.000)" font-size="21" font-weight="normal" fill="#8a8a8a" textLength="172.9" lengthAdjust="spacing" stroke="#9c9c9c" stroke-width="0.45">glucocerebrosidase</text>
<text transform="translate(471.9,383.8) scale(1,1.000)" font-size="21" font-weight="normal" fill="#8a8a8a" textLength="183.5" lengthAdjust="spacing" stroke="#9c9c9c" stroke-width="0.45">unable to digest lipid</text>
<text transform="translate(471.9,406.9) scale(1,1.000)" font-size="21" font-weight="normal" fill="#8a8a8a" textLength="150.1" lengthAdjust="spacing" stroke="#9c9c9c" stroke-width="0.45">in red blood cells</text>
<path d="M587.8,455.3 L614.0,481.4 L587.8,507.5 L582.2,501.9 L602.7,481.4 L582.2,460.9 Z" fill="#c9c9c9"/>
<path d="M632.3,488.5 C631.8,484.4 631.1,481.2 631.5,477.2 C631.9,473.2 632.6,468.6 634.7,464.3 C636.9,460.0 639.5,455.4 644.4,451.3 C649.2,447.2 654.2,444.0 663.8,440.0 C673.4,436.0 689.2,430.0 701.9,427.5 C714.6,425.0 728.8,424.8 740.0,424.8 C751.2,424.9 760.9,426.0 769.0,427.8 C777.1,429.6 783.3,432.6 788.5,435.5 C793.7,438.4 796.1,442.0 800.0,445.2 C803.9,448.4 808.1,452.9 811.7,454.5 C815.3,456.1 817.9,453.8 821.4,454.5 C824.9,455.2 829.8,457.1 833.0,458.8 C836.2,460.5 838.7,462.7 840.8,464.6 C842.9,466.5 844.4,468.5 845.7,470.4 C847.0,472.3 848.0,474.3 848.6,476.2 C849.2,478.1 849.5,479.9 849.2,482.0 C848.9,484.1 848.5,485.3 847.0,489.0 C845.5,492.7 842.6,499.1 840.1,504.0 C837.6,508.9 834.8,513.7 832.2,518.6 C829.6,523.5 827.7,528.3 824.3,533.3 C820.9,538.2 819.8,543.5 811.7,548.3 C803.7,553.1 788.8,559.3 776.0,562.0 C763.2,564.7 748.5,565.4 734.8,564.7 C721.1,564.0 705.7,562.0 693.6,557.9 C681.5,553.8 669.6,545.0 662.2,540.0 C654.8,535.0 652.8,531.8 649.3,528.1 C645.8,524.4 643.6,522.0 641.2,517.6 C638.8,513.2 636.2,506.4 634.7,501.5 C633.2,496.6 632.8,492.6 632.3,488.5 Z" fill="url(#bowl)"/>
<path d="M632.3,488.5 C631.8,484.4 631.1,481.2 631.5,477.2 C631.9,473.2 632.6,468.6 634.7,464.3 C636.9,460.0 639.5,455.4 644.4,451.3 C649.2,447.2 654.2,444.0 663.8,440.0 C673.4,436.0 689.2,430.0 701.9,427.5 C714.6,425.0 728.8,424.8 740.0,424.8 C751.2,424.9 760.9,426.0 769.0,427.8 C777.1,429.6 783.3,432.6 788.5,435.5 C793.7,438.4 796.1,442.0 800.0,445.2 C803.9,448.4 808.1,452.9 811.7,454.5 C815.3,456.1 817.9,453.8 821.4,454.5 C824.9,455.2 829.8,457.1 833.0,458.8 C836.2,460.5 838.7,462.7 840.8,464.6 C842.9,466.5 844.4,468.5 845.7,470.4 C847.0,472.3 848.0,474.3 848.6,476.2 C849.2,478.1 849.5,479.9 849.2,482.0 C848.9,484.1 848.5,485.3 847.0,489.0 C845.5,492.7 842.6,499.1 840.1,504.0 C837.6,508.9 834.8,513.7 832.2,518.6 C829.6,523.5 827.7,528.3 824.3,533.3 C820.9,538.2 819.8,543.5 811.7,548.3 C803.7,553.1 788.8,559.3 776.0,562.0 C763.2,564.7 748.5,565.4 734.8,564.7 C721.1,564.0 705.7,562.0 693.6,557.9 C681.5,553.8 669.6,545.0 662.2,540.0 C654.8,535.0 652.8,531.8 649.3,528.1 C645.8,524.4 643.6,522.0 641.2,517.6 C638.8,513.2 636.2,506.4 634.7,501.5 C633.2,496.6 632.8,492.6 632.3,488.5 Z" fill="url(#bowlhi)"/>
<path d="M632.3,488.5 C632.0,486.3 631.1,481.2 631.5,477.2 C631.9,473.2 632.6,468.6 634.7,464.3 C636.9,460.0 639.5,455.4 644.4,451.3 C649.2,447.2 654.2,444.0 663.8,440.0 C673.4,436.0 689.2,430.0 701.9,427.5 C714.6,425.0 728.8,424.8 740.0,424.8 C751.2,424.9 760.9,426.0 769.0,427.8 C777.1,429.6 783.3,432.6 788.5,435.5 C793.7,438.4 796.1,442.0 800.0,445.2 C803.9,448.4 808.1,452.9 811.7,454.5 C815.3,456.1 817.9,453.8 821.4,454.5 C824.9,455.2 829.8,457.1 833.0,458.8 C836.2,460.5 838.7,462.7 840.8,464.6 C842.9,466.5 844.4,468.5 845.7,470.4 C847.0,472.3 848.0,474.3 848.6,476.2 C849.2,478.1 849.5,479.9 849.2,482.0 C848.9,484.1 848.9,486.7 847.0,489.0 C845.1,491.3 842.1,493.1 837.8,496.0 C833.4,498.9 826.9,503.4 820.9,506.2 C814.9,509.0 807.4,511.4 801.7,513.0 C796.1,514.6 792.3,515.1 787.0,516.0 C781.7,516.9 776.4,517.9 770.0,518.5 C763.6,519.1 756.1,519.5 748.6,519.5 C741.1,519.5 731.9,519.1 725.0,518.5 C718.1,517.9 714.1,517.2 707.4,516.0 C700.7,514.8 692.0,513.4 685.0,511.5 C678.0,509.6 672.2,507.2 665.4,504.7 C658.6,502.2 649.8,499.0 644.4,496.6 C639.0,494.2 635.0,491.9 633.0,490.5 C631.0,489.1 632.5,490.7 632.3,488.5 Z" fill="url(#topg)"/>
<path d="M632.3,488.5 C631.8,484.4 631.1,481.2 631.5,477.2 C631.9,473.2 632.6,468.6 634.7,464.3 C636.9,460.0 639.5,455.4 644.4,451.3 C649.2,447.2 654.2,444.0 663.8,440.0 C673.4,436.0 689.2,430.0 701.9,427.5 C714.6,425.0 728.8,424.8 740.0,424.8 C751.2,424.9 760.9,426.0 769.0,427.8 C777.1,429.6 783.3,432.6 788.5,435.5 C793.7,438.4 796.1,442.0 800.0,445.2 C803.9,448.4 808.1,452.9 811.7,454.5 C815.3,456.1 817.9,453.8 821.4,454.5 C824.9,455.2 829.8,457.1 833.0,458.8 C836.2,460.5 838.7,462.7 840.8,464.6 C842.9,466.5 844.4,468.5 845.7,470.4 C847.0,472.3 848.0,474.3 848.6,476.2 C849.2,478.1 849.5,479.9 849.2,482.0 C848.9,484.1 848.5,485.3 847.0,489.0 C845.5,492.7 842.6,499.1 840.1,504.0 C837.6,508.9 834.8,513.7 832.2,518.6 C829.6,523.5 827.7,528.3 824.3,533.3 C820.9,538.2 819.8,543.5 811.7,548.3 C803.7,553.1 788.8,559.3 776.0,562.0 C763.2,564.7 748.5,565.4 734.8,564.7 C721.1,564.0 705.7,562.0 693.6,557.9 C681.5,553.8 669.6,545.0 662.2,540.0 C654.8,535.0 652.8,531.8 649.3,528.1 C645.8,524.4 643.6,522.0 641.2,517.6 C638.8,513.2 636.2,506.4 634.7,501.5 C633.2,496.6 632.8,492.6 632.3,488.5 Z" fill="none" stroke="#d4f0fc" stroke-width="1" stroke-opacity="0.75"/>
<path d="M837.8,496.0 C835.0,497.7 826.9,503.4 820.9,506.2 C814.9,509.0 807.4,511.4 801.7,513.0 C796.1,514.6 792.3,515.1 787.0,516.0 C781.7,516.9 776.4,517.9 770.0,518.5 C763.6,519.1 756.1,519.5 748.6,519.5 C741.1,519.5 731.9,519.1 725.0,518.5 C718.1,517.9 714.1,517.2 707.4,516.0 C700.7,514.8 692.0,513.4 685.0,511.5 C678.0,509.6 672.2,507.2 665.4,504.7 C658.6,502.2 649.8,499.0 644.4,496.6 C639.0,494.2 634.9,491.5 633.0,490.5" fill="none" stroke="#c6ebfa" stroke-width="1" stroke-opacity="0.6"/>
<g fill="url(#sphg)">
<ellipse cx="677.4" cy="527.2" rx="16.5" ry="13.2"/>
<ellipse cx="705.0" cy="532.1" rx="9.1" ry="7.4"/>
<ellipse cx="740.8" cy="538.9" rx="19.4" ry="15.5"/>
<ellipse cx="788.4" cy="533.2" rx="11.5" ry="9.5"/>
</g><g fill="url(#sphg2)">
<ellipse cx="663.3" cy="464.8" rx="9.3" ry="9.3"/>
<ellipse cx="712.3" cy="482.3" rx="7.8" ry="7.8"/>
<ellipse cx="735.0" cy="494.3" rx="12.0" ry="12.0"/>
</g>
<path d="M700.5,439.0 A12.4,10.3 0 0 0 725.3,439.0 Z" fill="#ecdb7c" fill-opacity="0.85"/>
<ellipse cx="712.9" cy="439.0" rx="12.4" ry="5.5" fill="url(#lysg)"/>
<path d="M724.9,452.6 A16.7,14.5 0 0 0 758.3,452.6 Z" fill="#ecdb7c" fill-opacity="0.85"/>
<ellipse cx="741.6" cy="452.6" rx="16.7" ry="7.8" fill="url(#lysg)"/>
<path d="M764.9,452.7 A18.1,13.8 0 0 0 801.1,452.7 Z" fill="#ecdb7c" fill-opacity="0.85"/>
<ellipse cx="783.0" cy="452.7" rx="18.1" ry="8.0" fill="url(#lysg)"/>
<path d="M678.5,460.9 A17.8,15.5 0 0 0 714.1,460.9 Z" fill="#ecdb7c" fill-opacity="0.85"/>
<ellipse cx="696.3" cy="460.9" rx="17.8" ry="8.2" fill="url(#lysg)"/>
<path d="M740.0,474.3 A23.7,15.9 0 0 0 787.4,474.3 Z" fill="#ecdb7c" fill-opacity="0.85"/>
<ellipse cx="763.7" cy="474.3" rx="23.7" ry="9.7" fill="url(#lysg)"/>
<path d="M644.3,485.1 A19.2,16.6 0 0 0 682.7,485.1 Z" fill="#ecdb7c" fill-opacity="0.85"/>
<ellipse cx="663.5" cy="485.1" rx="19.2" ry="9.2" fill="url(#lysg)"/>
<path d="M685.6,503.3 A22.8,19.7 0 0 0 731.2,503.3 Z" fill="#ecdb7c" fill-opacity="0.85"/>
<ellipse cx="708.4" cy="503.3" rx="22.8" ry="11.3" fill="url(#lysg)"/>
<path d="M737.0,499.0 A23.0,18.0 0 0 0 783.0,499.0 Z" fill="#ecdb7c" fill-opacity="0.85"/>
<ellipse cx="760.0" cy="499.0" rx="23.0" ry="10.2" fill="url(#lysg)"/>
<g clip-path="url(#cn5)"><path d="M632.3,488.5 C631.8,484.4 631.1,481.2 631.5,477.2 C631.9,473.2 632.6,468.6 634.7,464.3 C636.9,460.0 639.5,455.4 644.4,451.3 C649.2,447.2 654.2,444.0 663.8,440.0 C673.4,436.0 689.2,430.0 701.9,427.5 C714.6,425.0 728.8,424.8 740.0,424.8 C751.2,424.9 760.9,426.0 769.0,427.8 C777.1,429.6 783.3,432.6 788.5,435.5 C793.7,438.4 796.1,442.0 800.0,445.2 C803.9,448.4 808.1,452.9 811.7,454.5 C815.3,456.1 817.9,453.8 821.4,454.5 C824.9,455.2 829.8,457.1 833.0,458.8 C836.2,460.5 838.7,462.7 840.8,464.6 C842.9,466.5 844.4,468.5 845.7,470.4 C847.0,472.3 848.0,474.3 848.6,476.2 C849.2,478.1 849.5,479.9 849.2,482.0 C848.9,484.1 848.5,485.3 847.0,489.0 C845.5,492.7 842.6,499.1 840.1,504.0 C837.6,508.9 834.8,513.7 832.2,518.6 C829.6,523.5 827.7,528.3 824.3,533.3 C820.9,538.2 819.8,543.5 811.7,548.3 C803.7,553.1 788.8,559.3 776.0,562.0 C763.2,564.7 748.5,565.4 734.8,564.7 C721.1,564.0 705.7,562.0 693.6,557.9 C681.5,553.8 669.6,545.0 662.2,540.0 C654.8,535.0 652.8,531.8 649.3,528.1 C645.8,524.4 643.6,522.0 641.2,517.6 C638.8,513.2 636.2,506.4 634.7,501.5 C633.2,496.6 632.8,492.6 632.3,488.5 Z" fill="#b2b99f"/><path d="M632.3,488.5 C632.0,486.3 631.1,481.2 631.5,477.2 C631.9,473.2 632.6,468.6 634.7,464.3 C636.9,460.0 639.5,455.4 644.4,451.3 C649.2,447.2 654.2,444.0 663.8,440.0 C673.4,436.0 689.2,430.0 701.9,427.5 C714.6,425.0 728.8,424.8 740.0,424.8 C751.2,424.9 760.9,426.0 769.0,427.8 C777.1,429.6 783.3,432.6 788.5,435.5 C793.7,438.4 796.1,442.0 800.0,445.2 C803.9,448.4 808.1,452.9 811.7,454.5 C815.3,456.1 817.9,453.8 821.4,454.5 C824.9,455.2 829.8,457.1 833.0,458.8 C836.2,460.5 838.7,462.7 840.8,464.6 C842.9,466.5 844.4,468.5 845.7,470.4 C847.0,472.3 848.0,474.3 848.6,476.2 C849.2,478.1 849.5,479.9 849.2,482.0 C848.9,484.1 848.9,486.7 847.0,489.0 C845.1,491.3 842.1,493.1 837.8,496.0 C833.4,498.9 826.9,503.4 820.9,506.2 C814.9,509.0 807.4,511.4 801.7,513.0 C796.1,514.6 792.3,515.1 787.0,516.0 C781.7,516.9 776.4,517.9 770.0,518.5 C763.6,519.1 756.1,519.5 748.6,519.5 C741.1,519.5 731.9,519.1 725.0,518.5 C718.1,517.9 714.1,517.2 707.4,516.0 C700.7,514.8 692.0,513.4 685.0,511.5 C678.0,509.6 672.2,507.2 665.4,504.7 C658.6,502.2 649.8,499.0 644.4,496.6 C639.0,494.2 635.0,491.9 633.0,490.5 C631.0,489.1 632.5,490.7 632.3,488.5 Z" fill="#d7cca9"/></g>
<ellipse cx="814.5" cy="481.5" rx="29.5" ry="18.5" fill="url(#nucg)" transform="rotate(-6 814.5 481.5)"/>
<ellipse cx="820.6" cy="462.9" rx="12.8" ry="7.9" fill="url(#innerg)"/>
<line x1="752.7" y1="393.0" x2="741.7" y2="452.2" stroke="#6a6a6a" stroke-width="1.3"/>
<line x1="814.5" y1="483.7" x2="832.5" y2="569.0" stroke="#6a6a6a" stroke-width="1.3"/>
<line x1="649.8" y1="528.1" x2="628.8" y2="572.2" stroke="#9a9a9a" stroke-width="1.5"/>
<text transform="translate(731.9,338.0) scale(1,1.000)" font-size="21" font-weight="normal" fill="#8a8a8a" textLength="149.5" lengthAdjust="spacing" stroke="#9c9c9c" stroke-width="0.45">Lysosomes swell</text>
<text transform="translate(731.9,361.2) scale(1,1.000)" font-size="21" font-weight="normal" fill="#8a8a8a" textLength="148.6" lengthAdjust="spacing" stroke="#9c9c9c" stroke-width="0.45">and cause whole</text>
<text transform="translate(731.9,384.4) scale(1,1.000)" font-size="21" font-weight="normal" fill="#8a8a8a" textLength="102.3" lengthAdjust="spacing" stroke="#9c9c9c" stroke-width="0.45">cell to swell</text>
<text transform="translate(538.0,591.0) scale(1,1.000)" font-size="21" font-weight="normal" fill="#8a8a8a" textLength="181.6" lengthAdjust="spacing" stroke="#9c9c9c" stroke-width="0.45">Gaucher cell swollen</text>
<text transform="translate(538.0,614.9) scale(1,1.000)" font-size="21" font-weight="normal" fill="#8a8a8a" textLength="181.7" lengthAdjust="spacing" stroke="#9c9c9c" stroke-width="0.45">with undigested lipid</text>
<text transform="translate(792.2,591.1) scale(1,1.000)" font-size="21" font-weight="normal" fill="#8a8a8a" textLength="91.3" lengthAdjust="spacing" stroke="#9c9c9c" stroke-width="0.45">Nucleus is</text>
<text transform="translate(792.2,615.9) scale(1,1.000)" font-size="21" font-weight="normal" fill="#8a8a8a" textLength="85.3" lengthAdjust="spacing" stroke="#9c9c9c" stroke-width="0.45">displaced</text></svg>
</body></html>
